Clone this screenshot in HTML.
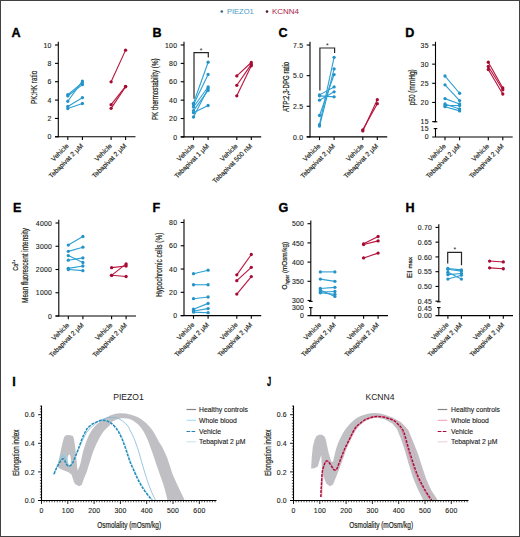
<!DOCTYPE html>
<html><head><meta charset="utf-8"><style>
html,body{margin:0;padding:0;background:#fff;}
body{width:520px;height:537px;overflow:hidden;position:relative;}
.frame{position:absolute;left:0;top:0;width:518px;height:535px;border:1px solid #424242;}
svg{position:absolute;left:0;top:0;}
</style></head><body>
<svg width="520" height="537" viewBox="0 0 520 537" font-family='"Liberation Sans", sans-serif'>
<rect x="0" y="0" width="520" height="537" fill="#fff"/>
<circle cx="221.8" cy="11.5" r="1.3" fill="#3b6682"/>
<text x="226.9" y="13.9" font-size="8.0" text-anchor="start" fill="#4b98c2" font-weight="normal" textLength="26.9" lengthAdjust="spacingAndGlyphs" >PIEZO1</text>
<circle cx="267.0" cy="11.6" r="1.3" fill="#5e1a32"/>
<text x="271.9" y="13.9" font-size="8.0" text-anchor="start" fill="#a82448" font-weight="normal" textLength="27" lengthAdjust="spacingAndGlyphs" >KCNN4</text>
<text x="11.6" y="37" font-size="12.6" text-anchor="start" fill="#000" font-weight="bold" stroke="#000" stroke-width="0.35">A</text>
<line x1="58.3" y1="41.8" x2="58.3" y2="137.3" stroke="#000" stroke-width="1.1" />
<line x1="55" y1="136.8" x2="58.3" y2="136.8" stroke="#000" stroke-width="1.1" />
<text x="51.5" y="139.4" font-size="6.9" text-anchor="end" fill="#231f20" font-weight="normal" letter-spacing="0.2" stroke="#231f20" stroke-width="0.12">0</text>
<line x1="55" y1="118.44" x2="58.3" y2="118.44" stroke="#000" stroke-width="1.1" />
<text x="51.5" y="121.04" font-size="6.9" text-anchor="end" fill="#231f20" font-weight="normal" letter-spacing="0.2" stroke="#231f20" stroke-width="0.12">2</text>
<line x1="55" y1="100.08" x2="58.3" y2="100.08" stroke="#000" stroke-width="1.1" />
<text x="51.5" y="102.68" font-size="6.9" text-anchor="end" fill="#231f20" font-weight="normal" letter-spacing="0.2" stroke="#231f20" stroke-width="0.12">4</text>
<line x1="55" y1="81.72" x2="58.3" y2="81.72" stroke="#000" stroke-width="1.1" />
<text x="51.5" y="84.32" font-size="6.9" text-anchor="end" fill="#231f20" font-weight="normal" letter-spacing="0.2" stroke="#231f20" stroke-width="0.12">6</text>
<line x1="55" y1="63.36" x2="58.3" y2="63.36" stroke="#000" stroke-width="1.1" />
<text x="51.5" y="65.96" font-size="6.9" text-anchor="end" fill="#231f20" font-weight="normal" letter-spacing="0.2" stroke="#231f20" stroke-width="0.12">8</text>
<line x1="55" y1="45" x2="58.3" y2="45" stroke="#000" stroke-width="1.1" />
<text x="51.5" y="47.6" font-size="6.9" text-anchor="end" fill="#231f20" font-weight="normal" letter-spacing="0.2" stroke="#231f20" stroke-width="0.12">10</text>
<line x1="55" y1="136.8" x2="135.5" y2="136.8" stroke="#000" stroke-width="1.1" />
<line x1="67.8" y1="136.8" x2="67.8" y2="140" stroke="#000" stroke-width="1.1" />
<line x1="82.4" y1="136.8" x2="82.4" y2="140" stroke="#000" stroke-width="1.1" />
<line x1="111.1" y1="136.8" x2="111.1" y2="140" stroke="#000" stroke-width="1.1" />
<line x1="125.6" y1="136.8" x2="125.6" y2="140" stroke="#000" stroke-width="1.1" />
<text transform="translate(69.1,146.4) rotate(-45)" font-size="6.7" text-anchor="end" fill="#231f20" stroke="#231f20" stroke-width="0.16">Vehicle</text>
<text transform="translate(83.7,146.4) rotate(-45)" font-size="6.7" text-anchor="end" fill="#231f20" stroke="#231f20" stroke-width="0.16">Tebapivat 2 μM</text>
<text transform="translate(112.4,146.4) rotate(-45)" font-size="6.7" text-anchor="end" fill="#231f20" stroke="#231f20" stroke-width="0.16">Vehicle</text>
<text transform="translate(126.9,146.4) rotate(-45)" font-size="6.7" text-anchor="end" fill="#231f20" stroke="#231f20" stroke-width="0.16">Tebapivat 2 μM</text>
<text transform="translate(37.1,87.4) rotate(-90)" x="0" y="0" font-size="8.6" text-anchor="middle" fill="#231f20" stroke="#231f20" stroke-width="0.22" textLength="33.2" lengthAdjust="spacingAndGlyphs">PK:HK ratio</text>
<line x1="67.8" y1="94.76" x2="82.4" y2="82.64" stroke="#2d9fd3" stroke-width="1.1" />
<line x1="67.8" y1="95.95" x2="82.4" y2="84.66" stroke="#2d9fd3" stroke-width="1.1" />
<line x1="67.8" y1="101.27" x2="82.4" y2="81.08" stroke="#2d9fd3" stroke-width="1.1" />
<line x1="67.8" y1="106.51" x2="82.4" y2="97.69" stroke="#2d9fd3" stroke-width="1.1" />
<line x1="67.8" y1="108.53" x2="82.4" y2="103.48" stroke="#2d9fd3" stroke-width="1.1" />
<circle cx="67.8" cy="94.76" r="1.65" fill="#2593c7"/>
<circle cx="82.4" cy="82.64" r="1.65" fill="#2593c7"/>
<circle cx="67.8" cy="95.95" r="1.65" fill="#2593c7"/>
<circle cx="82.4" cy="84.66" r="1.65" fill="#2593c7"/>
<circle cx="67.8" cy="101.27" r="1.65" fill="#2593c7"/>
<circle cx="82.4" cy="81.08" r="1.65" fill="#2593c7"/>
<circle cx="67.8" cy="106.51" r="1.65" fill="#2593c7"/>
<circle cx="82.4" cy="97.69" r="1.65" fill="#2593c7"/>
<circle cx="67.8" cy="108.53" r="1.65" fill="#2593c7"/>
<circle cx="82.4" cy="103.48" r="1.65" fill="#2593c7"/>
<line x1="111.1" y1="81.81" x2="125.6" y2="50.14" stroke="#b8123c" stroke-width="1.1" />
<line x1="111.1" y1="104.67" x2="125.6" y2="86.31" stroke="#b8123c" stroke-width="1.1" />
<line x1="111.1" y1="108.34" x2="125.6" y2="86.77" stroke="#b8123c" stroke-width="1.1" />
<circle cx="111.1" cy="81.81" r="1.65" fill="#a50c33"/>
<circle cx="125.6" cy="50.14" r="1.65" fill="#a50c33"/>
<circle cx="111.1" cy="104.67" r="1.65" fill="#a50c33"/>
<circle cx="125.6" cy="86.31" r="1.65" fill="#a50c33"/>
<circle cx="111.1" cy="108.34" r="1.65" fill="#a50c33"/>
<circle cx="125.6" cy="86.77" r="1.65" fill="#a50c33"/>
<text x="152.5" y="37" font-size="12.6" text-anchor="start" fill="#000" font-weight="bold" stroke="#000" stroke-width="0.35">B</text>
<line x1="184" y1="41.8" x2="184" y2="137.4" stroke="#000" stroke-width="1.1" />
<line x1="180.7" y1="136.9" x2="184" y2="136.9" stroke="#000" stroke-width="1.1" />
<text x="177.2" y="139.5" font-size="6.9" text-anchor="end" fill="#231f20" font-weight="normal" letter-spacing="0.2" stroke="#231f20" stroke-width="0.12">0</text>
<line x1="180.7" y1="118.52" x2="184" y2="118.52" stroke="#000" stroke-width="1.1" />
<text x="177.2" y="121.12" font-size="6.9" text-anchor="end" fill="#231f20" font-weight="normal" letter-spacing="0.2" stroke="#231f20" stroke-width="0.12">20</text>
<line x1="180.7" y1="100.14" x2="184" y2="100.14" stroke="#000" stroke-width="1.1" />
<text x="177.2" y="102.74" font-size="6.9" text-anchor="end" fill="#231f20" font-weight="normal" letter-spacing="0.2" stroke="#231f20" stroke-width="0.12">40</text>
<line x1="180.7" y1="81.76" x2="184" y2="81.76" stroke="#000" stroke-width="1.1" />
<text x="177.2" y="84.36" font-size="6.9" text-anchor="end" fill="#231f20" font-weight="normal" letter-spacing="0.2" stroke="#231f20" stroke-width="0.12">60</text>
<line x1="180.7" y1="63.38" x2="184" y2="63.38" stroke="#000" stroke-width="1.1" />
<text x="177.2" y="65.98" font-size="6.9" text-anchor="end" fill="#231f20" font-weight="normal" letter-spacing="0.2" stroke="#231f20" stroke-width="0.12">80</text>
<line x1="180.7" y1="45" x2="184" y2="45" stroke="#000" stroke-width="1.1" />
<text x="177.2" y="47.6" font-size="6.9" text-anchor="end" fill="#231f20" font-weight="normal" letter-spacing="0.2" stroke="#231f20" stroke-width="0.12">100</text>
<line x1="180.7" y1="136.9" x2="261.2" y2="136.9" stroke="#000" stroke-width="1.1" />
<line x1="193.5" y1="136.9" x2="193.5" y2="140.1" stroke="#000" stroke-width="1.1" />
<line x1="208.1" y1="136.9" x2="208.1" y2="140.1" stroke="#000" stroke-width="1.1" />
<line x1="236.8" y1="136.9" x2="236.8" y2="140.1" stroke="#000" stroke-width="1.1" />
<line x1="251.3" y1="136.9" x2="251.3" y2="140.1" stroke="#000" stroke-width="1.1" />
<text transform="translate(194.8,146.5) rotate(-45)" font-size="6.7" text-anchor="end" fill="#231f20" stroke="#231f20" stroke-width="0.16">Vehicle</text>
<text transform="translate(209.4,146.5) rotate(-45)" font-size="6.7" text-anchor="end" fill="#231f20" stroke="#231f20" stroke-width="0.16">Tebapivat 1 μM</text>
<text transform="translate(238.1,146.5) rotate(-45)" font-size="6.7" text-anchor="end" fill="#231f20" stroke="#231f20" stroke-width="0.16">Vehicle</text>
<text transform="translate(252.6,146.5) rotate(-45)" font-size="6.7" text-anchor="end" fill="#231f20" stroke="#231f20" stroke-width="0.16">Tebapivat 500 nM</text>
<text transform="translate(158,89.3) rotate(-90)" x="0" y="0" font-size="8.6" text-anchor="middle" fill="#231f20" stroke="#231f20" stroke-width="0.22" textLength="61.6" lengthAdjust="spacingAndGlyphs">PK thermostability (%)</text>
<path d="M194,98.8 V52.7 H208.3 V57.6" fill="none" stroke="#262626" stroke-width="1.2"/>
<text x="201.2" y="52.6" font-size="6.8" text-anchor="middle" fill="#262626" font-weight="normal" >*</text>
<line x1="193.5" y1="103.3" x2="208.1" y2="62.2" stroke="#2d9fd3" stroke-width="1.1" />
<line x1="193.5" y1="104.8" x2="208.1" y2="74.5" stroke="#2d9fd3" stroke-width="1.1" />
<line x1="193.5" y1="107" x2="208.1" y2="87" stroke="#2d9fd3" stroke-width="1.1" />
<line x1="193.5" y1="110.6" x2="208.1" y2="90.4" stroke="#2d9fd3" stroke-width="1.1" />
<line x1="193.5" y1="112.7" x2="208.1" y2="105.5" stroke="#2d9fd3" stroke-width="1.1" />
<line x1="193.5" y1="117" x2="208.1" y2="88.5" stroke="#2d9fd3" stroke-width="1.1" />
<circle cx="193.5" cy="103.3" r="1.65" fill="#2593c7"/>
<circle cx="208.1" cy="62.2" r="1.65" fill="#2593c7"/>
<circle cx="193.5" cy="104.8" r="1.65" fill="#2593c7"/>
<circle cx="208.1" cy="74.5" r="1.65" fill="#2593c7"/>
<circle cx="193.5" cy="107" r="1.65" fill="#2593c7"/>
<circle cx="208.1" cy="87" r="1.65" fill="#2593c7"/>
<circle cx="193.5" cy="110.6" r="1.65" fill="#2593c7"/>
<circle cx="208.1" cy="90.4" r="1.65" fill="#2593c7"/>
<circle cx="193.5" cy="112.7" r="1.65" fill="#2593c7"/>
<circle cx="208.1" cy="105.5" r="1.65" fill="#2593c7"/>
<circle cx="193.5" cy="117" r="1.65" fill="#2593c7"/>
<circle cx="208.1" cy="88.5" r="1.65" fill="#2593c7"/>
<line x1="236.8" y1="75.9" x2="251.3" y2="62.5" stroke="#b8123c" stroke-width="1.1" />
<line x1="236.8" y1="85.3" x2="251.3" y2="64.4" stroke="#b8123c" stroke-width="1.1" />
<line x1="236.8" y1="95.8" x2="251.3" y2="65.8" stroke="#b8123c" stroke-width="1.1" />
<circle cx="236.8" cy="75.9" r="1.65" fill="#a50c33"/>
<circle cx="251.3" cy="62.5" r="1.65" fill="#a50c33"/>
<circle cx="236.8" cy="85.3" r="1.65" fill="#a50c33"/>
<circle cx="251.3" cy="64.4" r="1.65" fill="#a50c33"/>
<circle cx="236.8" cy="95.8" r="1.65" fill="#a50c33"/>
<circle cx="251.3" cy="65.8" r="1.65" fill="#a50c33"/>
<text x="278.4" y="37" font-size="12.6" text-anchor="start" fill="#000" font-weight="bold" stroke="#000" stroke-width="0.35">C</text>
<line x1="310" y1="41.83" x2="310" y2="137.4" stroke="#000" stroke-width="1.1" />
<line x1="306.7" y1="136.9" x2="310" y2="136.9" stroke="#000" stroke-width="1.1" />
<text x="303.2" y="139.5" font-size="6.9" text-anchor="end" fill="#231f20" font-weight="normal" letter-spacing="0.2" stroke="#231f20" stroke-width="0.12">0.0</text>
<line x1="306.7" y1="106.28" x2="310" y2="106.28" stroke="#000" stroke-width="1.1" />
<text x="303.2" y="108.88" font-size="6.9" text-anchor="end" fill="#231f20" font-weight="normal" letter-spacing="0.2" stroke="#231f20" stroke-width="0.12">2.5</text>
<line x1="306.7" y1="75.65" x2="310" y2="75.65" stroke="#000" stroke-width="1.1" />
<text x="303.2" y="78.25" font-size="6.9" text-anchor="end" fill="#231f20" font-weight="normal" letter-spacing="0.2" stroke="#231f20" stroke-width="0.12">5.0</text>
<line x1="306.7" y1="45.03" x2="310" y2="45.03" stroke="#000" stroke-width="1.1" />
<text x="303.2" y="47.63" font-size="6.9" text-anchor="end" fill="#231f20" font-weight="normal" letter-spacing="0.2" stroke="#231f20" stroke-width="0.12">7.5</text>
<line x1="306.7" y1="136.9" x2="387.2" y2="136.9" stroke="#000" stroke-width="1.1" />
<line x1="319.5" y1="136.9" x2="319.5" y2="140.1" stroke="#000" stroke-width="1.1" />
<line x1="334.1" y1="136.9" x2="334.1" y2="140.1" stroke="#000" stroke-width="1.1" />
<line x1="362.8" y1="136.9" x2="362.8" y2="140.1" stroke="#000" stroke-width="1.1" />
<line x1="377.3" y1="136.9" x2="377.3" y2="140.1" stroke="#000" stroke-width="1.1" />
<text transform="translate(320.8,146.5) rotate(-45)" font-size="6.7" text-anchor="end" fill="#231f20" stroke="#231f20" stroke-width="0.16">Vehicle</text>
<text transform="translate(335.4,146.5) rotate(-45)" font-size="6.7" text-anchor="end" fill="#231f20" stroke="#231f20" stroke-width="0.16">Tebapivat 2 μM</text>
<text transform="translate(364.1,146.5) rotate(-45)" font-size="6.7" text-anchor="end" fill="#231f20" stroke="#231f20" stroke-width="0.16">Vehicle</text>
<text transform="translate(378.6,146.5) rotate(-45)" font-size="6.7" text-anchor="end" fill="#231f20" stroke="#231f20" stroke-width="0.16">Tebapivat 2 μM</text>
<text transform="translate(289,86.9) rotate(-90)" x="0" y="0" font-size="8.6" text-anchor="middle" fill="#231f20" stroke="#231f20" stroke-width="0.22" textLength="50.2" lengthAdjust="spacingAndGlyphs">ATP:2,3-DPG ratio</text>
<path d="M319.9,90.4 V48 H334.6 V53" fill="none" stroke="#262626" stroke-width="1.2"/>
<text x="327.4" y="47.6" font-size="6.8" text-anchor="middle" fill="#262626" font-weight="normal" >*</text>
<line x1="319.5" y1="94.88" x2="334.1" y2="86.92" stroke="#2d9fd3" stroke-width="1.1" />
<line x1="319.5" y1="100.15" x2="334.1" y2="91.82" stroke="#2d9fd3" stroke-width="1.1" />
<line x1="319.5" y1="95.86" x2="334.1" y2="96.84" stroke="#2d9fd3" stroke-width="1.1" />
<line x1="319.5" y1="115.46" x2="334.1" y2="74.55" stroke="#2d9fd3" stroke-width="1.1" />
<line x1="319.5" y1="124.65" x2="334.1" y2="57.28" stroke="#2d9fd3" stroke-width="1.1" />
<line x1="319.5" y1="126" x2="334.1" y2="68.91" stroke="#2d9fd3" stroke-width="1.1" />
<circle cx="319.5" cy="94.88" r="1.65" fill="#2593c7"/>
<circle cx="334.1" cy="86.92" r="1.65" fill="#2593c7"/>
<circle cx="319.5" cy="100.15" r="1.65" fill="#2593c7"/>
<circle cx="334.1" cy="91.82" r="1.65" fill="#2593c7"/>
<circle cx="319.5" cy="95.86" r="1.65" fill="#2593c7"/>
<circle cx="334.1" cy="96.84" r="1.65" fill="#2593c7"/>
<circle cx="319.5" cy="115.46" r="1.65" fill="#2593c7"/>
<circle cx="334.1" cy="74.55" r="1.65" fill="#2593c7"/>
<circle cx="319.5" cy="124.65" r="1.65" fill="#2593c7"/>
<circle cx="334.1" cy="57.28" r="1.65" fill="#2593c7"/>
<circle cx="319.5" cy="126" r="1.65" fill="#2593c7"/>
<circle cx="334.1" cy="68.91" r="1.65" fill="#2593c7"/>
<line x1="362.8" y1="130.9" x2="377.3" y2="99.66" stroke="#b8123c" stroke-width="1.1" />
<line x1="362.8" y1="129.8" x2="377.3" y2="103.7" stroke="#b8123c" stroke-width="1.1" />
<circle cx="362.8" cy="130.9" r="1.65" fill="#a50c33"/>
<circle cx="377.3" cy="99.66" r="1.65" fill="#a50c33"/>
<circle cx="362.8" cy="129.8" r="1.65" fill="#a50c33"/>
<circle cx="377.3" cy="103.7" r="1.65" fill="#a50c33"/>
<text x="405.3" y="37" font-size="12.6" text-anchor="start" fill="#000" font-weight="bold" stroke="#000" stroke-width="0.35">D</text>
<line x1="435.5" y1="41.8" x2="435.5" y2="121.8" stroke="#000" stroke-width="1.1" />
<line x1="433.7" y1="121.8" x2="437.3" y2="121.8" stroke="#000" stroke-width="1.1" />
<line x1="435.5" y1="128.6" x2="435.5" y2="137" stroke="#000" stroke-width="1.1" />
<line x1="433.7" y1="128.6" x2="437.3" y2="128.6" stroke="#000" stroke-width="1.1" />
<text x="428.7" y="131" font-size="6.9" text-anchor="end" fill="#231f20" font-weight="normal" letter-spacing="0.2" stroke="#231f20" stroke-width="0.12">15</text>
<text x="428.7" y="138.9" font-size="6.9" text-anchor="end" fill="#231f20" font-weight="normal" letter-spacing="0.2" stroke="#231f20" stroke-width="0.12">0</text>
<line x1="432.2" y1="121.6" x2="435.5" y2="121.6" stroke="#000" stroke-width="1.1" />
<text x="428.7" y="124.2" font-size="6.9" text-anchor="end" fill="#231f20" font-weight="normal" letter-spacing="0.2" stroke="#231f20" stroke-width="0.12">15</text>
<line x1="432.2" y1="102.45" x2="435.5" y2="102.45" stroke="#000" stroke-width="1.1" />
<text x="428.7" y="105.05" font-size="6.9" text-anchor="end" fill="#231f20" font-weight="normal" letter-spacing="0.2" stroke="#231f20" stroke-width="0.12">20</text>
<line x1="432.2" y1="83.3" x2="435.5" y2="83.3" stroke="#000" stroke-width="1.1" />
<text x="428.7" y="85.9" font-size="6.9" text-anchor="end" fill="#231f20" font-weight="normal" letter-spacing="0.2" stroke="#231f20" stroke-width="0.12">25</text>
<line x1="432.2" y1="64.15" x2="435.5" y2="64.15" stroke="#000" stroke-width="1.1" />
<text x="428.7" y="66.75" font-size="6.9" text-anchor="end" fill="#231f20" font-weight="normal" letter-spacing="0.2" stroke="#231f20" stroke-width="0.12">30</text>
<line x1="432.2" y1="45" x2="435.5" y2="45" stroke="#000" stroke-width="1.1" />
<text x="428.7" y="47.6" font-size="6.9" text-anchor="end" fill="#231f20" font-weight="normal" letter-spacing="0.2" stroke="#231f20" stroke-width="0.12">35</text>
<line x1="432.2" y1="137" x2="512.7" y2="137" stroke="#000" stroke-width="1.1" />
<line x1="445" y1="137" x2="445" y2="140.2" stroke="#000" stroke-width="1.1" />
<line x1="459.6" y1="137" x2="459.6" y2="140.2" stroke="#000" stroke-width="1.1" />
<line x1="488.3" y1="137" x2="488.3" y2="140.2" stroke="#000" stroke-width="1.1" />
<line x1="502.8" y1="137" x2="502.8" y2="140.2" stroke="#000" stroke-width="1.1" />
<text transform="translate(446.3,146.6) rotate(-45)" font-size="6.7" text-anchor="end" fill="#231f20" stroke="#231f20" stroke-width="0.16">Vehicle</text>
<text transform="translate(460.9,146.6) rotate(-45)" font-size="6.7" text-anchor="end" fill="#231f20" stroke="#231f20" stroke-width="0.16">Tebapivat 2 μM</text>
<text transform="translate(489.6,146.6) rotate(-45)" font-size="6.7" text-anchor="end" fill="#231f20" stroke="#231f20" stroke-width="0.16">Vehicle</text>
<text transform="translate(504.1,146.6) rotate(-45)" font-size="6.7" text-anchor="end" fill="#231f20" stroke="#231f20" stroke-width="0.16">Tebapivat 2 μM</text>
<text transform="translate(414.6,87.3) rotate(-90)" x="0" y="0" font-size="8.6" text-anchor="middle" fill="#231f20" stroke="#231f20" stroke-width="0.22" textLength="36" lengthAdjust="spacingAndGlyphs">p50 (mmHg)</text>
<line x1="445" y1="76.02" x2="459.6" y2="93.26" stroke="#2d9fd3" stroke-width="1.1" />
<line x1="445" y1="84.83" x2="459.6" y2="100.53" stroke="#2d9fd3" stroke-width="1.1" />
<line x1="445" y1="98.62" x2="459.6" y2="103.98" stroke="#2d9fd3" stroke-width="1.1" />
<line x1="445" y1="103.98" x2="459.6" y2="108.96" stroke="#2d9fd3" stroke-width="1.1" />
<line x1="445" y1="105.51" x2="459.6" y2="105.51" stroke="#2d9fd3" stroke-width="1.1" />
<line x1="445" y1="106.66" x2="459.6" y2="110.88" stroke="#2d9fd3" stroke-width="1.1" />
<circle cx="445" cy="76.02" r="1.65" fill="#2593c7"/>
<circle cx="459.6" cy="93.26" r="1.65" fill="#2593c7"/>
<circle cx="445" cy="84.83" r="1.65" fill="#2593c7"/>
<circle cx="459.6" cy="100.53" r="1.65" fill="#2593c7"/>
<circle cx="445" cy="98.62" r="1.65" fill="#2593c7"/>
<circle cx="459.6" cy="103.98" r="1.65" fill="#2593c7"/>
<circle cx="445" cy="103.98" r="1.65" fill="#2593c7"/>
<circle cx="459.6" cy="108.96" r="1.65" fill="#2593c7"/>
<circle cx="445" cy="105.51" r="1.65" fill="#2593c7"/>
<circle cx="459.6" cy="105.51" r="1.65" fill="#2593c7"/>
<circle cx="445" cy="106.66" r="1.65" fill="#2593c7"/>
<circle cx="459.6" cy="110.88" r="1.65" fill="#2593c7"/>
<line x1="488.3" y1="62.23" x2="502.8" y2="87.9" stroke="#b8123c" stroke-width="1.1" />
<line x1="488.3" y1="66.45" x2="502.8" y2="89.81" stroke="#b8123c" stroke-width="1.1" />
<line x1="488.3" y1="69.51" x2="502.8" y2="94.02" stroke="#b8123c" stroke-width="1.1" />
<circle cx="488.3" cy="62.23" r="1.65" fill="#a50c33"/>
<circle cx="502.8" cy="87.9" r="1.65" fill="#a50c33"/>
<circle cx="488.3" cy="66.45" r="1.65" fill="#a50c33"/>
<circle cx="502.8" cy="89.81" r="1.65" fill="#a50c33"/>
<circle cx="488.3" cy="69.51" r="1.65" fill="#a50c33"/>
<circle cx="502.8" cy="94.02" r="1.65" fill="#a50c33"/>
<text x="12.9" y="212.3" font-size="12.6" text-anchor="start" fill="#000" font-weight="bold" stroke="#000" stroke-width="0.35">E</text>
<line x1="58.8" y1="219.8" x2="58.8" y2="316.5" stroke="#000" stroke-width="1.1" />
<line x1="55.5" y1="316" x2="58.8" y2="316" stroke="#000" stroke-width="1.1" />
<text x="52" y="318.6" font-size="6.9" text-anchor="end" fill="#231f20" font-weight="normal" letter-spacing="0.2" stroke="#231f20" stroke-width="0.12">0</text>
<line x1="55.5" y1="292.75" x2="58.8" y2="292.75" stroke="#000" stroke-width="1.1" />
<text x="52" y="295.35" font-size="6.9" text-anchor="end" fill="#231f20" font-weight="normal" letter-spacing="0.2" stroke="#231f20" stroke-width="0.12">1000</text>
<line x1="55.5" y1="269.5" x2="58.8" y2="269.5" stroke="#000" stroke-width="1.1" />
<text x="52" y="272.1" font-size="6.9" text-anchor="end" fill="#231f20" font-weight="normal" letter-spacing="0.2" stroke="#231f20" stroke-width="0.12">2000</text>
<line x1="55.5" y1="246.25" x2="58.8" y2="246.25" stroke="#000" stroke-width="1.1" />
<text x="52" y="248.85" font-size="6.9" text-anchor="end" fill="#231f20" font-weight="normal" letter-spacing="0.2" stroke="#231f20" stroke-width="0.12">3000</text>
<line x1="55.5" y1="223" x2="58.8" y2="223" stroke="#000" stroke-width="1.1" />
<text x="52" y="225.6" font-size="6.9" text-anchor="end" fill="#231f20" font-weight="normal" letter-spacing="0.2" stroke="#231f20" stroke-width="0.12">4000</text>
<line x1="55.5" y1="316" x2="136" y2="316" stroke="#000" stroke-width="1.1" />
<line x1="68.3" y1="316" x2="68.3" y2="319.2" stroke="#000" stroke-width="1.1" />
<line x1="82.9" y1="316" x2="82.9" y2="319.2" stroke="#000" stroke-width="1.1" />
<line x1="111.6" y1="316" x2="111.6" y2="319.2" stroke="#000" stroke-width="1.1" />
<line x1="126.1" y1="316" x2="126.1" y2="319.2" stroke="#000" stroke-width="1.1" />
<text transform="translate(69.6,325.6) rotate(-45)" font-size="6.7" text-anchor="end" fill="#231f20" stroke="#231f20" stroke-width="0.16">Vehicle</text>
<text transform="translate(84.2,325.6) rotate(-45)" font-size="6.7" text-anchor="end" fill="#231f20" stroke="#231f20" stroke-width="0.16">Tebapivat 2 μM</text>
<text transform="translate(112.9,325.6) rotate(-45)" font-size="6.7" text-anchor="end" fill="#231f20" stroke="#231f20" stroke-width="0.16">Vehicle</text>
<text transform="translate(127.4,325.6) rotate(-45)" font-size="6.7" text-anchor="end" fill="#231f20" stroke="#231f20" stroke-width="0.16">Tebapivat 2 μM</text>
<text transform="translate(28.2,265.5) rotate(-90)" x="0" y="0" font-size="8.4" text-anchor="middle" fill="#231f20" stroke="#231f20" stroke-width="0.22" textLength="74.8" lengthAdjust="spacingAndGlyphs">Mean fluorescent intensity</text>
<text transform="translate(17.6,265.3) rotate(-90)" font-size="7.2" text-anchor="middle" fill="#231f20" stroke="#231f20" stroke-width="0.2" textLength="10.8" lengthAdjust="spacingAndGlyphs">Ca<tspan font-size="4.4" dy="-2.8">2+</tspan></text>
<line x1="68.3" y1="245.09" x2="82.9" y2="236.49" stroke="#2d9fd3" stroke-width="1.1" />
<line x1="68.3" y1="251.37" x2="82.9" y2="247.18" stroke="#2d9fd3" stroke-width="1.1" />
<line x1="68.3" y1="255.55" x2="82.9" y2="262.52" stroke="#2d9fd3" stroke-width="1.1" />
<line x1="68.3" y1="260.2" x2="82.9" y2="257.88" stroke="#2d9fd3" stroke-width="1.1" />
<line x1="68.3" y1="268.34" x2="82.9" y2="266.01" stroke="#2d9fd3" stroke-width="1.1" />
<line x1="68.3" y1="269.5" x2="82.9" y2="270.66" stroke="#2d9fd3" stroke-width="1.1" />
<circle cx="68.3" cy="245.09" r="1.65" fill="#2593c7"/>
<circle cx="82.9" cy="236.49" r="1.65" fill="#2593c7"/>
<circle cx="68.3" cy="251.37" r="1.65" fill="#2593c7"/>
<circle cx="82.9" cy="247.18" r="1.65" fill="#2593c7"/>
<circle cx="68.3" cy="255.55" r="1.65" fill="#2593c7"/>
<circle cx="82.9" cy="262.52" r="1.65" fill="#2593c7"/>
<circle cx="68.3" cy="260.2" r="1.65" fill="#2593c7"/>
<circle cx="82.9" cy="257.88" r="1.65" fill="#2593c7"/>
<circle cx="68.3" cy="268.34" r="1.65" fill="#2593c7"/>
<circle cx="82.9" cy="266.01" r="1.65" fill="#2593c7"/>
<circle cx="68.3" cy="269.5" r="1.65" fill="#2593c7"/>
<circle cx="82.9" cy="270.66" r="1.65" fill="#2593c7"/>
<line x1="111.6" y1="267.64" x2="126.1" y2="266.01" stroke="#b8123c" stroke-width="1.1" />
<line x1="111.6" y1="275.31" x2="126.1" y2="263.92" stroke="#b8123c" stroke-width="1.1" />
<line x1="111.6" y1="275.31" x2="126.1" y2="276.48" stroke="#b8123c" stroke-width="1.1" />
<circle cx="111.6" cy="267.64" r="1.65" fill="#a50c33"/>
<circle cx="126.1" cy="266.01" r="1.65" fill="#a50c33"/>
<circle cx="111.6" cy="275.31" r="1.65" fill="#a50c33"/>
<circle cx="126.1" cy="263.92" r="1.65" fill="#a50c33"/>
<circle cx="111.6" cy="275.31" r="1.65" fill="#a50c33"/>
<circle cx="126.1" cy="276.48" r="1.65" fill="#a50c33"/>
<text x="152.5" y="212.3" font-size="12.6" text-anchor="start" fill="#000" font-weight="bold" stroke="#000" stroke-width="0.35">F</text>
<line x1="184" y1="219.28" x2="184" y2="316.1" stroke="#000" stroke-width="1.1" />
<line x1="180.7" y1="315.6" x2="184" y2="315.6" stroke="#000" stroke-width="1.1" />
<text x="177.2" y="318.2" font-size="6.9" text-anchor="end" fill="#231f20" font-weight="normal" letter-spacing="0.2" stroke="#231f20" stroke-width="0.12">0</text>
<line x1="180.7" y1="292.32" x2="184" y2="292.32" stroke="#000" stroke-width="1.1" />
<text x="177.2" y="294.92" font-size="6.9" text-anchor="end" fill="#231f20" font-weight="normal" letter-spacing="0.2" stroke="#231f20" stroke-width="0.12">20</text>
<line x1="180.7" y1="269.04" x2="184" y2="269.04" stroke="#000" stroke-width="1.1" />
<text x="177.2" y="271.64" font-size="6.9" text-anchor="end" fill="#231f20" font-weight="normal" letter-spacing="0.2" stroke="#231f20" stroke-width="0.12">40</text>
<line x1="180.7" y1="245.76" x2="184" y2="245.76" stroke="#000" stroke-width="1.1" />
<text x="177.2" y="248.36" font-size="6.9" text-anchor="end" fill="#231f20" font-weight="normal" letter-spacing="0.2" stroke="#231f20" stroke-width="0.12">60</text>
<line x1="180.7" y1="222.48" x2="184" y2="222.48" stroke="#000" stroke-width="1.1" />
<text x="177.2" y="225.08" font-size="6.9" text-anchor="end" fill="#231f20" font-weight="normal" letter-spacing="0.2" stroke="#231f20" stroke-width="0.12">80</text>
<line x1="180.7" y1="315.6" x2="261.2" y2="315.6" stroke="#000" stroke-width="1.1" />
<line x1="193.5" y1="315.6" x2="193.5" y2="318.8" stroke="#000" stroke-width="1.1" />
<line x1="208.1" y1="315.6" x2="208.1" y2="318.8" stroke="#000" stroke-width="1.1" />
<line x1="236.8" y1="315.6" x2="236.8" y2="318.8" stroke="#000" stroke-width="1.1" />
<line x1="251.3" y1="315.6" x2="251.3" y2="318.8" stroke="#000" stroke-width="1.1" />
<text transform="translate(194.8,325.2) rotate(-45)" font-size="6.7" text-anchor="end" fill="#231f20" stroke="#231f20" stroke-width="0.16">Vehicle</text>
<text transform="translate(209.4,325.2) rotate(-45)" font-size="6.7" text-anchor="end" fill="#231f20" stroke="#231f20" stroke-width="0.16">Tebapivat 2 μM</text>
<text transform="translate(238.1,325.2) rotate(-45)" font-size="6.7" text-anchor="end" fill="#231f20" stroke="#231f20" stroke-width="0.16">Vehicle</text>
<text transform="translate(252.6,325.2) rotate(-45)" font-size="6.7" text-anchor="end" fill="#231f20" stroke="#231f20" stroke-width="0.16">Tebapivat 2 μM</text>
<text transform="translate(162.4,264.8) rotate(-90)" x="0" y="0" font-size="8.6" text-anchor="middle" fill="#231f20" stroke="#231f20" stroke-width="0.22" textLength="64.2" lengthAdjust="spacingAndGlyphs">Hypochromic cells (%)</text>
<line x1="193.5" y1="273.7" x2="208.1" y2="270.2" stroke="#2d9fd3" stroke-width="1.1" />
<line x1="193.5" y1="284.75" x2="208.1" y2="284.75" stroke="#2d9fd3" stroke-width="1.1" />
<line x1="193.5" y1="298.72" x2="208.1" y2="296.98" stroke="#2d9fd3" stroke-width="1.1" />
<line x1="193.5" y1="309.2" x2="208.1" y2="303.38" stroke="#2d9fd3" stroke-width="1.1" />
<line x1="193.5" y1="310.94" x2="208.1" y2="308.62" stroke="#2d9fd3" stroke-width="1.1" />
<line x1="193.5" y1="312.11" x2="208.1" y2="312.69" stroke="#2d9fd3" stroke-width="1.1" />
<circle cx="193.5" cy="273.7" r="1.65" fill="#2593c7"/>
<circle cx="208.1" cy="270.2" r="1.65" fill="#2593c7"/>
<circle cx="193.5" cy="284.75" r="1.65" fill="#2593c7"/>
<circle cx="208.1" cy="284.75" r="1.65" fill="#2593c7"/>
<circle cx="193.5" cy="298.72" r="1.65" fill="#2593c7"/>
<circle cx="208.1" cy="296.98" r="1.65" fill="#2593c7"/>
<circle cx="193.5" cy="309.2" r="1.65" fill="#2593c7"/>
<circle cx="208.1" cy="303.38" r="1.65" fill="#2593c7"/>
<circle cx="193.5" cy="310.94" r="1.65" fill="#2593c7"/>
<circle cx="208.1" cy="308.62" r="1.65" fill="#2593c7"/>
<circle cx="193.5" cy="312.11" r="1.65" fill="#2593c7"/>
<circle cx="208.1" cy="312.69" r="1.65" fill="#2593c7"/>
<line x1="236.8" y1="274.86" x2="251.3" y2="254.49" stroke="#b8123c" stroke-width="1.1" />
<line x1="236.8" y1="280.68" x2="251.3" y2="267.29" stroke="#b8123c" stroke-width="1.1" />
<line x1="236.8" y1="294.07" x2="251.3" y2="276.61" stroke="#b8123c" stroke-width="1.1" />
<circle cx="236.8" cy="274.86" r="1.65" fill="#a50c33"/>
<circle cx="251.3" cy="254.49" r="1.65" fill="#a50c33"/>
<circle cx="236.8" cy="280.68" r="1.65" fill="#a50c33"/>
<circle cx="251.3" cy="267.29" r="1.65" fill="#a50c33"/>
<circle cx="236.8" cy="294.07" r="1.65" fill="#a50c33"/>
<circle cx="251.3" cy="276.61" r="1.65" fill="#a50c33"/>
<text x="278.6" y="212.3" font-size="12.6" text-anchor="start" fill="#000" font-weight="bold" stroke="#000" stroke-width="0.35">G</text>
<line x1="310.8" y1="220.5" x2="310.8" y2="301.4" stroke="#000" stroke-width="1.1" />
<line x1="309" y1="301.4" x2="312.6" y2="301.4" stroke="#000" stroke-width="1.1" />
<line x1="310.8" y1="307.6" x2="310.8" y2="315.6" stroke="#000" stroke-width="1.1" />
<line x1="309" y1="307.6" x2="312.6" y2="307.6" stroke="#000" stroke-width="1.1" />
<text x="304" y="310.4" font-size="6.9" text-anchor="end" fill="#231f20" font-weight="normal" letter-spacing="0.2" stroke="#231f20" stroke-width="0.12">300</text>
<text x="304" y="317.6" font-size="6.9" text-anchor="end" fill="#231f20" font-weight="normal" letter-spacing="0.2" stroke="#231f20" stroke-width="0.12">0</text>
<line x1="307.5" y1="300.5" x2="310.8" y2="300.5" stroke="#000" stroke-width="1.1" />
<text x="304" y="303.1" font-size="6.9" text-anchor="end" fill="#231f20" font-weight="normal" letter-spacing="0.2" stroke="#231f20" stroke-width="0.12">300</text>
<line x1="307.5" y1="281.3" x2="310.8" y2="281.3" stroke="#000" stroke-width="1.1" />
<text x="304" y="283.9" font-size="6.9" text-anchor="end" fill="#231f20" font-weight="normal" letter-spacing="0.2" stroke="#231f20" stroke-width="0.12">350</text>
<line x1="307.5" y1="262.1" x2="310.8" y2="262.1" stroke="#000" stroke-width="1.1" />
<text x="304" y="264.7" font-size="6.9" text-anchor="end" fill="#231f20" font-weight="normal" letter-spacing="0.2" stroke="#231f20" stroke-width="0.12">400</text>
<line x1="307.5" y1="242.9" x2="310.8" y2="242.9" stroke="#000" stroke-width="1.1" />
<text x="304" y="245.5" font-size="6.9" text-anchor="end" fill="#231f20" font-weight="normal" letter-spacing="0.2" stroke="#231f20" stroke-width="0.12">450</text>
<line x1="307.5" y1="223.7" x2="310.8" y2="223.7" stroke="#000" stroke-width="1.1" />
<text x="304" y="226.3" font-size="6.9" text-anchor="end" fill="#231f20" font-weight="normal" letter-spacing="0.2" stroke="#231f20" stroke-width="0.12">500</text>
<line x1="307.5" y1="315.6" x2="388" y2="315.6" stroke="#000" stroke-width="1.1" />
<line x1="320.3" y1="315.6" x2="320.3" y2="318.8" stroke="#000" stroke-width="1.1" />
<line x1="334.9" y1="315.6" x2="334.9" y2="318.8" stroke="#000" stroke-width="1.1" />
<line x1="363.6" y1="315.6" x2="363.6" y2="318.8" stroke="#000" stroke-width="1.1" />
<line x1="378.1" y1="315.6" x2="378.1" y2="318.8" stroke="#000" stroke-width="1.1" />
<text transform="translate(321.6,325.2) rotate(-45)" font-size="6.7" text-anchor="end" fill="#231f20" stroke="#231f20" stroke-width="0.16">Vehicle</text>
<text transform="translate(336.2,325.2) rotate(-45)" font-size="6.7" text-anchor="end" fill="#231f20" stroke="#231f20" stroke-width="0.16">Tebapivat 2 μM</text>
<text transform="translate(364.9,325.2) rotate(-45)" font-size="6.7" text-anchor="end" fill="#231f20" stroke="#231f20" stroke-width="0.16">Vehicle</text>
<text transform="translate(379.4,325.2) rotate(-45)" font-size="6.7" text-anchor="end" fill="#231f20" stroke="#231f20" stroke-width="0.16">Tebapivat 2 μM</text>
<text transform="translate(287.0,265.7) rotate(-90)" font-size="8" text-anchor="middle" fill="#231f20" stroke="#231f20" stroke-width="0.22" textLength="47.5" lengthAdjust="spacingAndGlyphs">O<tspan font-size="5" dy="1.8">hyper</tspan><tspan dy="-1.8"> (mOsm/kg)</tspan></text>
<line x1="320.3" y1="271.89" x2="334.9" y2="271.89" stroke="#2d9fd3" stroke-width="1.1" />
<line x1="320.3" y1="279.11" x2="334.9" y2="281.34" stroke="#2d9fd3" stroke-width="1.1" />
<line x1="320.3" y1="288.48" x2="334.9" y2="287.37" stroke="#2d9fd3" stroke-width="1.1" />
<line x1="320.3" y1="289.9" x2="334.9" y2="296.47" stroke="#2d9fd3" stroke-width="1.1" />
<line x1="320.3" y1="292.09" x2="334.9" y2="291.48" stroke="#2d9fd3" stroke-width="1.1" />
<line x1="320.3" y1="292.82" x2="334.9" y2="294.36" stroke="#2d9fd3" stroke-width="1.1" />
<circle cx="320.3" cy="271.89" r="1.65" fill="#2593c7"/>
<circle cx="334.9" cy="271.89" r="1.65" fill="#2593c7"/>
<circle cx="320.3" cy="279.11" r="1.65" fill="#2593c7"/>
<circle cx="334.9" cy="281.34" r="1.65" fill="#2593c7"/>
<circle cx="320.3" cy="288.48" r="1.65" fill="#2593c7"/>
<circle cx="334.9" cy="287.37" r="1.65" fill="#2593c7"/>
<circle cx="320.3" cy="289.9" r="1.65" fill="#2593c7"/>
<circle cx="334.9" cy="296.47" r="1.65" fill="#2593c7"/>
<circle cx="320.3" cy="292.09" r="1.65" fill="#2593c7"/>
<circle cx="334.9" cy="291.48" r="1.65" fill="#2593c7"/>
<circle cx="320.3" cy="292.82" r="1.65" fill="#2593c7"/>
<circle cx="334.9" cy="294.36" r="1.65" fill="#2593c7"/>
<line x1="363.6" y1="243.78" x2="378.1" y2="236.49" stroke="#b8123c" stroke-width="1.1" />
<line x1="363.6" y1="244.51" x2="378.1" y2="240.9" stroke="#b8123c" stroke-width="1.1" />
<line x1="363.6" y1="257.91" x2="378.1" y2="253.11" stroke="#b8123c" stroke-width="1.1" />
<circle cx="363.6" cy="243.78" r="1.65" fill="#a50c33"/>
<circle cx="378.1" cy="236.49" r="1.65" fill="#a50c33"/>
<circle cx="363.6" cy="244.51" r="1.65" fill="#a50c33"/>
<circle cx="378.1" cy="240.9" r="1.65" fill="#a50c33"/>
<circle cx="363.6" cy="257.91" r="1.65" fill="#a50c33"/>
<circle cx="378.1" cy="253.11" r="1.65" fill="#a50c33"/>
<text x="405.4" y="212.3" font-size="12.6" text-anchor="start" fill="#000" font-weight="bold" stroke="#000" stroke-width="0.35">H</text>
<line x1="438.8" y1="224.2" x2="438.8" y2="301.8" stroke="#000" stroke-width="1.1" />
<line x1="437" y1="301.8" x2="440.6" y2="301.8" stroke="#000" stroke-width="1.1" />
<line x1="438.8" y1="307.6" x2="438.8" y2="315.6" stroke="#000" stroke-width="1.1" />
<line x1="437" y1="307.6" x2="440.6" y2="307.6" stroke="#000" stroke-width="1.1" />
<text x="432" y="310.5" font-size="6.9" text-anchor="end" fill="#231f20" font-weight="normal" letter-spacing="0.2" stroke="#231f20" stroke-width="0.12">0.45</text>
<text x="432" y="317.6" font-size="6.9" text-anchor="end" fill="#231f20" font-weight="normal" letter-spacing="0.2" stroke="#231f20" stroke-width="0.12">0.00</text>
<line x1="435.5" y1="301.2" x2="438.8" y2="301.2" stroke="#000" stroke-width="1.1" />
<text x="432" y="303.8" font-size="6.9" text-anchor="end" fill="#231f20" font-weight="normal" letter-spacing="0.2" stroke="#231f20" stroke-width="0.12">0.45</text>
<line x1="435.5" y1="286.44" x2="438.8" y2="286.44" stroke="#000" stroke-width="1.1" />
<text x="432" y="289.04" font-size="6.9" text-anchor="end" fill="#231f20" font-weight="normal" letter-spacing="0.2" stroke="#231f20" stroke-width="0.12">0.50</text>
<line x1="435.5" y1="271.68" x2="438.8" y2="271.68" stroke="#000" stroke-width="1.1" />
<text x="432" y="274.28" font-size="6.9" text-anchor="end" fill="#231f20" font-weight="normal" letter-spacing="0.2" stroke="#231f20" stroke-width="0.12">0.55</text>
<line x1="435.5" y1="256.92" x2="438.8" y2="256.92" stroke="#000" stroke-width="1.1" />
<text x="432" y="259.52" font-size="6.9" text-anchor="end" fill="#231f20" font-weight="normal" letter-spacing="0.2" stroke="#231f20" stroke-width="0.12">0.60</text>
<line x1="435.5" y1="242.16" x2="438.8" y2="242.16" stroke="#000" stroke-width="1.1" />
<text x="432" y="244.76" font-size="6.9" text-anchor="end" fill="#231f20" font-weight="normal" letter-spacing="0.2" stroke="#231f20" stroke-width="0.12">0.65</text>
<line x1="435.5" y1="227.4" x2="438.8" y2="227.4" stroke="#000" stroke-width="1.1" />
<text x="432" y="230" font-size="6.9" text-anchor="end" fill="#231f20" font-weight="normal" letter-spacing="0.2" stroke="#231f20" stroke-width="0.12">0.70</text>
<line x1="435.5" y1="315.6" x2="513" y2="315.6" stroke="#000" stroke-width="1.1" />
<line x1="447.9" y1="315.6" x2="447.9" y2="318.8" stroke="#000" stroke-width="1.1" />
<line x1="461.4" y1="315.6" x2="461.4" y2="318.8" stroke="#000" stroke-width="1.1" />
<line x1="489.6" y1="315.6" x2="489.6" y2="318.8" stroke="#000" stroke-width="1.1" />
<line x1="503.3" y1="315.6" x2="503.3" y2="318.8" stroke="#000" stroke-width="1.1" />
<text transform="translate(449.2,325.2) rotate(-45)" font-size="6.7" text-anchor="end" fill="#231f20" stroke="#231f20" stroke-width="0.16">Vehicle</text>
<text transform="translate(462.7,325.2) rotate(-45)" font-size="6.7" text-anchor="end" fill="#231f20" stroke="#231f20" stroke-width="0.16">Tebapivat 2 μM</text>
<text transform="translate(490.9,325.2) rotate(-45)" font-size="6.7" text-anchor="end" fill="#231f20" stroke="#231f20" stroke-width="0.16">Vehicle</text>
<text transform="translate(504.6,325.2) rotate(-45)" font-size="6.7" text-anchor="end" fill="#231f20" stroke="#231f20" stroke-width="0.16">Tebapivat 2 μM</text>
<text transform="translate(412.2,267.6) rotate(-90)" font-size="8" text-anchor="middle" fill="#231f20" stroke="#231f20" stroke-width="0.22">EI <tspan font-size="6">max</tspan></text>
<path d="M447.7,263.6 V252.4 H461.5 V265.3" fill="none" stroke="#262626" stroke-width="1.2"/>
<text x="454.8" y="251.9" font-size="6.8" text-anchor="middle" fill="#262626" font-weight="normal" >*</text>
<line x1="447.9" y1="268.43" x2="461.4" y2="269.91" stroke="#2d9fd3" stroke-width="1.1" />
<line x1="447.9" y1="269.32" x2="461.4" y2="271.09" stroke="#2d9fd3" stroke-width="1.1" />
<line x1="447.9" y1="272.27" x2="461.4" y2="279.06" stroke="#2d9fd3" stroke-width="1.1" />
<line x1="447.9" y1="274.63" x2="461.4" y2="273.45" stroke="#2d9fd3" stroke-width="1.1" />
<line x1="447.9" y1="279.06" x2="461.4" y2="275.22" stroke="#2d9fd3" stroke-width="1.1" />
<circle cx="447.9" cy="268.43" r="1.65" fill="#2593c7"/>
<circle cx="461.4" cy="269.91" r="1.65" fill="#2593c7"/>
<circle cx="447.9" cy="269.32" r="1.65" fill="#2593c7"/>
<circle cx="461.4" cy="271.09" r="1.65" fill="#2593c7"/>
<circle cx="447.9" cy="272.27" r="1.65" fill="#2593c7"/>
<circle cx="461.4" cy="279.06" r="1.65" fill="#2593c7"/>
<circle cx="447.9" cy="274.63" r="1.65" fill="#2593c7"/>
<circle cx="461.4" cy="273.45" r="1.65" fill="#2593c7"/>
<circle cx="447.9" cy="279.06" r="1.65" fill="#2593c7"/>
<circle cx="461.4" cy="275.22" r="1.65" fill="#2593c7"/>
<line x1="489.6" y1="261.05" x2="503.3" y2="261.94" stroke="#b8123c" stroke-width="1.1" />
<line x1="489.6" y1="267.84" x2="503.3" y2="268.73" stroke="#b8123c" stroke-width="1.1" />
<circle cx="489.6" cy="261.05" r="1.65" fill="#a50c33"/>
<circle cx="503.3" cy="261.94" r="1.65" fill="#a50c33"/>
<circle cx="489.6" cy="267.84" r="1.65" fill="#a50c33"/>
<circle cx="503.3" cy="268.73" r="1.65" fill="#a50c33"/>
<path d="M57.5,467 57.9,463.4 59.3,457.8 60.7,451.3 62.1,444.8 64,437.3 65.5,435.5 67.7,435 70.5,435.2 72.8,436 73.8,438.3 75.2,446.6 76.1,456 76.8,463 77.5,470.5 79.3,467 80.7,462.5 81.8,457 83.2,451 84.9,445.4 86.7,440.5 88.6,436.1 90.4,432.6 92.3,429.6 94.2,427.1 96.1,424.9 98.3,423 100.53,421.2 102.98,419.6 105.48,418.2 108.13,416.6 110.8,415.2 115.5,413.8 120,413.2 126,413.6 132,415 138.1,417.3 142,419.8 145.8,422.7 149,426 151.9,429.6 154.3,433.3 156.5,437.3 159,442 162,446.5 164.6,452 167,457.3 169.6,465 172.5,474 176.5,483 180,490.5 182.5,495.5 184.6,500.3 167.5,500.3 165.5,492 163.5,485 161.8,480 160,475 158.3,470 156.5,465 155,460.4 153.5,455.8 151.6,450.4 149.6,445 147.8,440.3 145.8,435.8 143.7,431.8 141.2,428 138.3,424.5 135,421.9 132,420 128.8,418.8 125,418.3 121,418.3 116.5,419.5 112,421.8 109.3,425.8 106.3,428.4 103.5,431.4 101.1,435 98.9,438.9 96.5,443.8 94.2,449.1 92.3,454 90.5,460 88.7,465.6 86.9,471.4 83.9,478.8 81.8,484.8 79.3,486.3 76.5,485 74.4,483.3 72.9,478.8 71.5,474.4 68,472 64,470.5 60.5,469 Z M67.7,457 69.1,454.1 70.5,456 71,461 70.5,465.3 68.5,465 67.6,461 Z" fill="#c0c0c4" fill-rule="evenodd"/>
<path d="M53.5,474.5 C53.75,473.85 54.42,471.98 55,470.6 C55.58,469.22 56.3,467.72 57,466.2 C57.7,464.68 58.5,462.95 59.2,461.5 C59.9,460.05 60.57,458.5 61.2,457.5 C61.83,456.5 62.42,455.5 63,455.5 C63.58,455.5 64.17,456.33 64.7,457.5 C65.23,458.67 65.65,461 66.2,462.5 C66.75,464 67.4,465.87 68,466.5 C68.6,467.13 69.17,466.8 69.8,466.3 C70.43,465.8 71.1,464.63 71.8,463.5 C72.5,462.37 73.22,461.08 74,459.5 C74.78,457.92 75.75,455.72 76.5,454 C77.25,452.28 77.85,450.7 78.5,449.2 C79.15,447.7 79.72,446.5 80.4,445 C81.08,443.5 81.8,441.87 82.6,440.2 C83.4,438.53 84.27,436.65 85.2,435 C86.13,433.35 86.98,431.75 88.2,430.3 C89.42,428.85 91.12,427.55 92.5,426.3 C93.88,425.05 95.08,423.85 96.5,422.8 C97.92,421.75 99.42,420.8 101,420 C102.58,419.2 104.33,418.45 106,418 C107.67,417.55 109.42,417.37 111,417.3 C112.58,417.23 114.17,417.35 115.5,417.6 C116.83,417.85 117.83,418.23 119,418.8 C120.17,419.37 121.4,420.2 122.5,421 C123.6,421.8 124.63,422.65 125.6,423.6 C126.57,424.55 127.57,425.6 128.3,426.7 C129.03,427.8 129.35,428.93 130,430.2 C130.65,431.47 131.52,432.92 132.2,434.3 C132.88,435.68 133.5,437.05 134.1,438.5 C134.7,439.95 135.25,441.5 135.8,443 C136.35,444.5 136.9,446 137.4,447.5 C137.9,449 138.33,450.45 138.8,452 C139.27,453.55 139.75,455.22 140.2,456.8 C140.65,458.38 141.07,459.97 141.5,461.5 C141.93,463.03 142.33,464.42 142.8,466 C143.27,467.58 143.77,469.25 144.3,471 C144.83,472.75 145.38,474.58 146,476.5 C146.62,478.42 147.37,480.67 148,482.5 C148.63,484.33 149.17,485.83 149.8,487.5 C150.43,489.17 151.1,490.88 151.8,492.5 C152.5,494.12 153.38,495.95 154,497.2 C154.62,498.45 155.25,499.53 155.5,500" fill="none" stroke="#79b4d3" stroke-width="0.75"/>
<path d="M53.7,474.6 C53.92,474 54.45,472.27 55,471 C55.55,469.73 56.25,468.58 57,467 C57.75,465.42 58.75,463 59.5,461.5 C60.25,460 60.88,459.08 61.5,458 C62.12,456.92 62.72,455.63 63.2,455 C63.68,454.37 63.97,453.87 64.4,454.2 C64.83,454.53 65.32,455.78 65.8,457 C66.28,458.22 66.83,460.12 67.3,461.5 C67.77,462.88 68.1,464.72 68.6,465.3 C69.1,465.88 69.68,465.5 70.3,465 C70.92,464.5 71.65,463.33 72.3,462.3 C72.95,461.27 73.5,460.35 74.2,458.8 C74.9,457.25 75.78,454.72 76.5,453 C77.22,451.28 77.5,450.82 78.5,448.5 C79.5,446.18 81.52,441.43 82.5,439.1 C83.48,436.77 83.78,435.82 84.4,434.5 C85.02,433.18 85.58,432.28 86.2,431.2 C86.82,430.12 87,429.2 88.1,428 C89.2,426.8 91.25,425.05 92.8,424 C94.35,422.95 95.85,422.35 97.4,421.7 C98.95,421.05 100.55,420.32 102.1,420.1 C103.65,419.88 105.35,420.08 106.7,420.4 C108.05,420.72 109.15,421.4 110.2,422 C111.25,422.6 111.88,422.95 113,424 C114.12,425.05 115.75,426.82 116.9,428.3 C118.05,429.78 118.9,431.07 119.9,432.9 C120.9,434.73 122.02,437.23 122.9,439.3 C123.78,441.37 124.48,443.3 125.2,445.3 C125.92,447.3 126.53,449.3 127.2,451.3 C127.87,453.3 128.53,455.35 129.2,457.3 C129.87,459.25 130.43,461.08 131.2,463 C131.97,464.92 132.88,466.75 133.8,468.8 C134.72,470.85 135.73,473.2 136.7,475.3 C137.67,477.4 138.63,479.57 139.6,481.4 C140.57,483.23 141.55,484.77 142.5,486.3 C143.45,487.83 144.35,489.22 145.3,490.6 C146.25,491.98 147.23,493.35 148.2,494.6 C149.17,495.85 150.35,497.23 151.1,498.1 C151.85,498.97 152.43,499.52 152.7,499.8" fill="none" stroke="#7fd8f2" stroke-width="0.85"/>
<path d="M54.2,474 C54.43,473.37 55.07,471.45 55.6,470.2 C56.13,468.95 56.78,467.67 57.4,466.5 C58.02,465.33 58.67,464.25 59.3,463.2 C59.93,462.15 60.58,460.93 61.2,460.2 C61.82,459.47 62.43,458.75 63,458.8 C63.57,458.85 64.05,459.6 64.6,460.5 C65.15,461.4 65.63,463.28 66.3,464.2 C66.97,465.12 67.9,465.78 68.6,466 C69.3,466.22 69.87,465.93 70.5,465.5 C71.13,465.07 71.68,464.65 72.4,463.4 C73.12,462.15 74.03,459.82 74.8,458 C75.57,456.18 76.37,454.12 77,452.5 C77.63,450.88 78.13,449.55 78.6,448.3 C79.07,447.05 79.27,446.5 79.8,445 C80.33,443.5 81.15,441.02 81.8,439.3 C82.45,437.58 83.08,436.02 83.7,434.7 C84.32,433.38 84.88,432.48 85.5,431.4 C86.12,430.32 86.3,429.4 87.4,428.2 C88.5,427 90.55,425.25 92.1,424.2 C93.65,423.15 95.15,422.55 96.7,421.9 C98.25,421.25 99.85,420.52 101.4,420.3 C102.95,420.08 104.65,420.28 106,420.6 C107.35,420.92 108.45,421.6 109.5,422.2 C110.55,422.8 111.18,423.15 112.3,424.2 C113.42,425.25 115.05,427.02 116.2,428.5 C117.35,429.98 118.2,431.27 119.2,433.1 C120.2,434.93 121.32,437.43 122.2,439.5 C123.08,441.57 123.78,443.5 124.5,445.5 C125.22,447.5 125.83,449.5 126.5,451.5 C127.17,453.5 127.83,455.55 128.5,457.5 C129.17,459.45 129.73,461.28 130.5,463.2 C131.27,465.12 132.18,466.95 133.1,469 C134.02,471.05 135.03,473.4 136,475.5 C136.97,477.6 137.93,479.77 138.9,481.6 C139.87,483.43 140.85,484.97 141.8,486.5 C142.75,488.03 143.65,489.42 144.6,490.8 C145.55,492.18 146.53,493.55 147.5,494.8 C148.47,496.05 149.65,497.43 150.4,498.3 C151.15,499.17 151.73,499.72 152,500" fill="none" stroke="#2785b3" stroke-width="1.4" stroke-dasharray="2.8 1.2"/>
<text x="12.2" y="385.5" font-size="12.6" text-anchor="start" fill="#000" font-weight="bold" stroke="#000" stroke-width="0.3">I</text>
<line x1="41.5" y1="405.6" x2="41.5" y2="500.5" stroke="#000" stroke-width="1.1" />
<line x1="38.1" y1="500.5" x2="41.5" y2="500.5" stroke="#000" stroke-width="0.9" />
<line x1="39.9" y1="497.64" x2="41.5" y2="497.64" stroke="#000" stroke-width="0.7" />
<line x1="39.9" y1="494.78" x2="41.5" y2="494.78" stroke="#000" stroke-width="0.7" />
<line x1="39.9" y1="491.92" x2="41.5" y2="491.92" stroke="#000" stroke-width="0.7" />
<line x1="39.9" y1="489.06" x2="41.5" y2="489.06" stroke="#000" stroke-width="0.7" />
<line x1="39.9" y1="486.2" x2="41.5" y2="486.2" stroke="#000" stroke-width="0.7" />
<line x1="39.9" y1="483.34" x2="41.5" y2="483.34" stroke="#000" stroke-width="0.7" />
<line x1="39.9" y1="480.48" x2="41.5" y2="480.48" stroke="#000" stroke-width="0.7" />
<line x1="39.9" y1="477.62" x2="41.5" y2="477.62" stroke="#000" stroke-width="0.7" />
<line x1="39.9" y1="474.76" x2="41.5" y2="474.76" stroke="#000" stroke-width="0.7" />
<line x1="38.1" y1="471.9" x2="41.5" y2="471.9" stroke="#000" stroke-width="0.9" />
<line x1="39.9" y1="469.04" x2="41.5" y2="469.04" stroke="#000" stroke-width="0.7" />
<line x1="39.9" y1="466.18" x2="41.5" y2="466.18" stroke="#000" stroke-width="0.7" />
<line x1="39.9" y1="463.32" x2="41.5" y2="463.32" stroke="#000" stroke-width="0.7" />
<line x1="39.9" y1="460.46" x2="41.5" y2="460.46" stroke="#000" stroke-width="0.7" />
<line x1="39.9" y1="457.6" x2="41.5" y2="457.6" stroke="#000" stroke-width="0.7" />
<line x1="39.9" y1="454.74" x2="41.5" y2="454.74" stroke="#000" stroke-width="0.7" />
<line x1="39.9" y1="451.88" x2="41.5" y2="451.88" stroke="#000" stroke-width="0.7" />
<line x1="39.9" y1="449.02" x2="41.5" y2="449.02" stroke="#000" stroke-width="0.7" />
<line x1="39.9" y1="446.16" x2="41.5" y2="446.16" stroke="#000" stroke-width="0.7" />
<line x1="38.1" y1="443.3" x2="41.5" y2="443.3" stroke="#000" stroke-width="0.9" />
<line x1="39.9" y1="440.44" x2="41.5" y2="440.44" stroke="#000" stroke-width="0.7" />
<line x1="39.9" y1="437.58" x2="41.5" y2="437.58" stroke="#000" stroke-width="0.7" />
<line x1="39.9" y1="434.72" x2="41.5" y2="434.72" stroke="#000" stroke-width="0.7" />
<line x1="39.9" y1="431.86" x2="41.5" y2="431.86" stroke="#000" stroke-width="0.7" />
<line x1="39.9" y1="429" x2="41.5" y2="429" stroke="#000" stroke-width="0.7" />
<line x1="39.9" y1="426.14" x2="41.5" y2="426.14" stroke="#000" stroke-width="0.7" />
<line x1="39.9" y1="423.28" x2="41.5" y2="423.28" stroke="#000" stroke-width="0.7" />
<line x1="39.9" y1="420.42" x2="41.5" y2="420.42" stroke="#000" stroke-width="0.7" />
<line x1="39.9" y1="417.56" x2="41.5" y2="417.56" stroke="#000" stroke-width="0.7" />
<line x1="38.1" y1="414.7" x2="41.5" y2="414.7" stroke="#000" stroke-width="0.9" />
<line x1="39.9" y1="411.84" x2="41.5" y2="411.84" stroke="#000" stroke-width="0.7" />
<line x1="39.9" y1="408.98" x2="41.5" y2="408.98" stroke="#000" stroke-width="0.7" />
<line x1="39.9" y1="406.12" x2="41.5" y2="406.12" stroke="#000" stroke-width="0.7" />
<text x="34.9" y="503.1" font-size="6.9" text-anchor="end" fill="#231f20" font-weight="normal" letter-spacing="0.2" stroke="#231f20" stroke-width="0.12">0.0</text>
<text x="34.9" y="474.5" font-size="6.9" text-anchor="end" fill="#231f20" font-weight="normal" letter-spacing="0.2" stroke="#231f20" stroke-width="0.12">0.2</text>
<text x="34.9" y="445.9" font-size="6.9" text-anchor="end" fill="#231f20" font-weight="normal" letter-spacing="0.2" stroke="#231f20" stroke-width="0.12">0.4</text>
<text x="34.9" y="417.3" font-size="6.9" text-anchor="end" fill="#231f20" font-weight="normal" letter-spacing="0.2" stroke="#231f20" stroke-width="0.12">0.6</text>
<line x1="38.1" y1="500.5" x2="216.5" y2="500.5" stroke="#000" stroke-width="1.1" />
<line x1="41.5" y1="500.5" x2="41.5" y2="503.9" stroke="#000" stroke-width="0.9" />
<line x1="44.13" y1="500.5" x2="44.13" y2="502.3" stroke="#000" stroke-width="0.7" />
<line x1="46.76" y1="500.5" x2="46.76" y2="502.3" stroke="#000" stroke-width="0.7" />
<line x1="49.39" y1="500.5" x2="49.39" y2="502.3" stroke="#000" stroke-width="0.7" />
<line x1="52.02" y1="500.5" x2="52.02" y2="502.3" stroke="#000" stroke-width="0.7" />
<line x1="54.65" y1="500.5" x2="54.65" y2="502.3" stroke="#000" stroke-width="0.7" />
<line x1="57.28" y1="500.5" x2="57.28" y2="502.3" stroke="#000" stroke-width="0.7" />
<line x1="59.91" y1="500.5" x2="59.91" y2="502.3" stroke="#000" stroke-width="0.7" />
<line x1="62.54" y1="500.5" x2="62.54" y2="502.3" stroke="#000" stroke-width="0.7" />
<line x1="65.17" y1="500.5" x2="65.17" y2="502.3" stroke="#000" stroke-width="0.7" />
<line x1="67.8" y1="500.5" x2="67.8" y2="503.9" stroke="#000" stroke-width="0.9" />
<line x1="70.43" y1="500.5" x2="70.43" y2="502.3" stroke="#000" stroke-width="0.7" />
<line x1="73.06" y1="500.5" x2="73.06" y2="502.3" stroke="#000" stroke-width="0.7" />
<line x1="75.69" y1="500.5" x2="75.69" y2="502.3" stroke="#000" stroke-width="0.7" />
<line x1="78.32" y1="500.5" x2="78.32" y2="502.3" stroke="#000" stroke-width="0.7" />
<line x1="80.95" y1="500.5" x2="80.95" y2="502.3" stroke="#000" stroke-width="0.7" />
<line x1="83.58" y1="500.5" x2="83.58" y2="502.3" stroke="#000" stroke-width="0.7" />
<line x1="86.21" y1="500.5" x2="86.21" y2="502.3" stroke="#000" stroke-width="0.7" />
<line x1="88.84" y1="500.5" x2="88.84" y2="502.3" stroke="#000" stroke-width="0.7" />
<line x1="91.47" y1="500.5" x2="91.47" y2="502.3" stroke="#000" stroke-width="0.7" />
<line x1="94.1" y1="500.5" x2="94.1" y2="503.9" stroke="#000" stroke-width="0.9" />
<line x1="96.73" y1="500.5" x2="96.73" y2="502.3" stroke="#000" stroke-width="0.7" />
<line x1="99.36" y1="500.5" x2="99.36" y2="502.3" stroke="#000" stroke-width="0.7" />
<line x1="101.99" y1="500.5" x2="101.99" y2="502.3" stroke="#000" stroke-width="0.7" />
<line x1="104.62" y1="500.5" x2="104.62" y2="502.3" stroke="#000" stroke-width="0.7" />
<line x1="107.25" y1="500.5" x2="107.25" y2="502.3" stroke="#000" stroke-width="0.7" />
<line x1="109.88" y1="500.5" x2="109.88" y2="502.3" stroke="#000" stroke-width="0.7" />
<line x1="112.51" y1="500.5" x2="112.51" y2="502.3" stroke="#000" stroke-width="0.7" />
<line x1="115.14" y1="500.5" x2="115.14" y2="502.3" stroke="#000" stroke-width="0.7" />
<line x1="117.77" y1="500.5" x2="117.77" y2="502.3" stroke="#000" stroke-width="0.7" />
<line x1="120.4" y1="500.5" x2="120.4" y2="503.9" stroke="#000" stroke-width="0.9" />
<line x1="123.03" y1="500.5" x2="123.03" y2="502.3" stroke="#000" stroke-width="0.7" />
<line x1="125.66" y1="500.5" x2="125.66" y2="502.3" stroke="#000" stroke-width="0.7" />
<line x1="128.29" y1="500.5" x2="128.29" y2="502.3" stroke="#000" stroke-width="0.7" />
<line x1="130.92" y1="500.5" x2="130.92" y2="502.3" stroke="#000" stroke-width="0.7" />
<line x1="133.55" y1="500.5" x2="133.55" y2="502.3" stroke="#000" stroke-width="0.7" />
<line x1="136.18" y1="500.5" x2="136.18" y2="502.3" stroke="#000" stroke-width="0.7" />
<line x1="138.81" y1="500.5" x2="138.81" y2="502.3" stroke="#000" stroke-width="0.7" />
<line x1="141.44" y1="500.5" x2="141.44" y2="502.3" stroke="#000" stroke-width="0.7" />
<line x1="144.07" y1="500.5" x2="144.07" y2="502.3" stroke="#000" stroke-width="0.7" />
<line x1="146.7" y1="500.5" x2="146.7" y2="503.9" stroke="#000" stroke-width="0.9" />
<line x1="149.33" y1="500.5" x2="149.33" y2="502.3" stroke="#000" stroke-width="0.7" />
<line x1="151.96" y1="500.5" x2="151.96" y2="502.3" stroke="#000" stroke-width="0.7" />
<line x1="154.59" y1="500.5" x2="154.59" y2="502.3" stroke="#000" stroke-width="0.7" />
<line x1="157.22" y1="500.5" x2="157.22" y2="502.3" stroke="#000" stroke-width="0.7" />
<line x1="159.85" y1="500.5" x2="159.85" y2="502.3" stroke="#000" stroke-width="0.7" />
<line x1="162.48" y1="500.5" x2="162.48" y2="502.3" stroke="#000" stroke-width="0.7" />
<line x1="165.11" y1="500.5" x2="165.11" y2="502.3" stroke="#000" stroke-width="0.7" />
<line x1="167.74" y1="500.5" x2="167.74" y2="502.3" stroke="#000" stroke-width="0.7" />
<line x1="170.37" y1="500.5" x2="170.37" y2="502.3" stroke="#000" stroke-width="0.7" />
<line x1="173" y1="500.5" x2="173" y2="503.9" stroke="#000" stroke-width="0.9" />
<line x1="175.63" y1="500.5" x2="175.63" y2="502.3" stroke="#000" stroke-width="0.7" />
<line x1="178.26" y1="500.5" x2="178.26" y2="502.3" stroke="#000" stroke-width="0.7" />
<line x1="180.89" y1="500.5" x2="180.89" y2="502.3" stroke="#000" stroke-width="0.7" />
<line x1="183.52" y1="500.5" x2="183.52" y2="502.3" stroke="#000" stroke-width="0.7" />
<line x1="186.15" y1="500.5" x2="186.15" y2="502.3" stroke="#000" stroke-width="0.7" />
<line x1="188.78" y1="500.5" x2="188.78" y2="502.3" stroke="#000" stroke-width="0.7" />
<line x1="191.41" y1="500.5" x2="191.41" y2="502.3" stroke="#000" stroke-width="0.7" />
<line x1="194.04" y1="500.5" x2="194.04" y2="502.3" stroke="#000" stroke-width="0.7" />
<line x1="196.67" y1="500.5" x2="196.67" y2="502.3" stroke="#000" stroke-width="0.7" />
<line x1="199.3" y1="500.5" x2="199.3" y2="503.9" stroke="#000" stroke-width="0.9" />
<line x1="201.93" y1="500.5" x2="201.93" y2="502.3" stroke="#000" stroke-width="0.7" />
<line x1="204.56" y1="500.5" x2="204.56" y2="502.3" stroke="#000" stroke-width="0.7" />
<line x1="207.19" y1="500.5" x2="207.19" y2="502.3" stroke="#000" stroke-width="0.7" />
<line x1="209.82" y1="500.5" x2="209.82" y2="502.3" stroke="#000" stroke-width="0.7" />
<line x1="212.45" y1="500.5" x2="212.45" y2="502.3" stroke="#000" stroke-width="0.7" />
<line x1="215.08" y1="500.5" x2="215.08" y2="502.3" stroke="#000" stroke-width="0.7" />
<text x="41.6" y="512.9" font-size="6.9" text-anchor="middle" fill="#231f20" font-weight="normal" letter-spacing="0.2" stroke="#231f20" stroke-width="0.12">0</text>
<text x="67.9" y="512.9" font-size="6.9" text-anchor="middle" fill="#231f20" font-weight="normal" letter-spacing="0.2" stroke="#231f20" stroke-width="0.12">100</text>
<text x="94.2" y="512.9" font-size="6.9" text-anchor="middle" fill="#231f20" font-weight="normal" letter-spacing="0.2" stroke="#231f20" stroke-width="0.12">200</text>
<text x="120.5" y="512.9" font-size="6.9" text-anchor="middle" fill="#231f20" font-weight="normal" letter-spacing="0.2" stroke="#231f20" stroke-width="0.12">300</text>
<text x="146.8" y="512.9" font-size="6.9" text-anchor="middle" fill="#231f20" font-weight="normal" letter-spacing="0.2" stroke="#231f20" stroke-width="0.12">400</text>
<text x="173.1" y="512.9" font-size="6.9" text-anchor="middle" fill="#231f20" font-weight="normal" letter-spacing="0.2" stroke="#231f20" stroke-width="0.12">500</text>
<text x="199.4" y="512.9" font-size="6.9" text-anchor="middle" fill="#231f20" font-weight="normal" letter-spacing="0.2" stroke="#231f20" stroke-width="0.12">600</text>
<text x="129.2" y="528" font-size="8.2" text-anchor="middle" fill="#231f20" font-weight="normal" textLength="63.7" lengthAdjust="spacingAndGlyphs" stroke="#231f20" stroke-width="0.2">Osmolality (mOsm/kg)</text>
<text transform="translate(18.7,452.8) rotate(-90)" x="0" y="0" font-size="8.2" text-anchor="middle" fill="#231f20" stroke="#231f20" stroke-width="0.22" textLength="46.3" lengthAdjust="spacingAndGlyphs">Elongation index</text>
<text x="128.5" y="400" font-size="8.6" text-anchor="middle" fill="#222" font-weight="normal" >PIEZO1</text>
<line x1="186.5" y1="409.5" x2="196.1" y2="409.5" stroke="#858587" stroke-width="1.2" />
<text x="199.1" y="411.95" font-size="6.8" text-anchor="start" fill="#222" font-weight="normal" stroke="#222" stroke-width="0.12">Healthy controls</text>
<line x1="186.5" y1="420.3" x2="196.1" y2="420.3" stroke="#7fd8f2" stroke-width="0.8" />
<text x="199.1" y="422.75" font-size="6.8" text-anchor="start" fill="#222" font-weight="normal" stroke="#222" stroke-width="0.12">Whole blood</text>
<line x1="186.5" y1="431.5" x2="196.1" y2="431.5" stroke="#2785b3" stroke-width="1.2" stroke-dasharray="3.7 1.3"/>
<text x="199.1" y="433.95" font-size="6.8" text-anchor="start" fill="#222" font-weight="normal" stroke="#222" stroke-width="0.12">Vehicle</text>
<line x1="186.5" y1="441.8" x2="196.1" y2="441.8" stroke="#b3d3de" stroke-width="0.7" />
<text x="199.1" y="444.25" font-size="6.8" text-anchor="start" fill="#222" font-weight="normal" stroke="#222" stroke-width="0.12">Tebapivat 2 μM</text>
<path d="M311.1,468.5 311.7,458 312.8,446.8 314.5,440 316.5,436 319,434.8 322,434.8 324.5,436.5 326,440 326.8,444.5 328.5,452.3 330.3,458.5 331.6,462 333.1,461.5 334.6,455 336.1,448.8 338,443.3 340.2,438.5 342.7,433.6 345.4,429.3 348,426 350.5,423.2 353.5,420.4 356.6,418.1 360,416.3 365,414.4 370.4,413.3 375.5,413.1 380.2,413.4 385,414.8 392.4,417.6 401,422.2 408.3,430 414.1,444 418.2,454.5 422.2,467 426.4,479.5 431.5,490.7 434.8,495.5 437.8,500.3 423.2,500.3 422.2,498.1 417.6,488.8 412.9,477.6 408.3,462.7 404.6,449.7 400.8,438.5 397.1,429.2 392.4,423.6 385,419.6 377,417.6 372,418.3 367,420 362.5,422.7 358.5,426.4 355,430.9 352,435.9 349.2,441.4 346.5,448.4 343.8,456.4 340,467 336.3,476.5 333,484.5 330,486.3 326.2,483.6 323.4,476 322,468 321.5,461 321.3,455 319.8,459.5 317.8,466.5 314.5,468.2 Z" fill="#c0c0c4"/>
<path d="M321.8,497.4 C321.85,496.07 321.98,491.85 322.1,489.4 C322.22,486.95 322.32,485.48 322.5,482.7 C322.68,479.92 322.92,475.12 323.2,472.7 C323.48,470.28 323.85,469.5 324.2,468.2 C324.55,466.9 324.92,465.9 325.3,464.9 C325.68,463.9 326.13,462.8 326.5,462.2 C326.87,461.6 327.12,461.38 327.5,461.3 C327.88,461.22 328.32,461.35 328.8,461.7 C329.28,462.05 329.87,462.73 330.4,463.4 C330.93,464.07 331.53,464.98 332,465.7 C332.47,466.42 332.82,467.03 333.2,467.7 C333.58,468.37 333.93,469.25 334.3,469.7 C334.67,470.15 334.98,470.28 335.4,470.4 C335.82,470.52 336.33,470.73 336.8,470.4 C337.27,470.07 337.67,469.53 338.2,468.4 C338.73,467.27 339.4,465.17 340,463.6 C340.6,462.03 341.13,460.7 341.8,459 C342.47,457.3 343.28,455.18 344,453.4 C344.72,451.62 345.38,449.88 346.1,448.3 C346.82,446.72 347.58,445.33 348.3,443.9 C349.02,442.47 349.7,441.12 350.4,439.7 C351.1,438.28 351.78,436.83 352.5,435.4 C353.22,433.97 353.83,432.57 354.7,431.1 C355.57,429.63 356.65,427.8 357.7,426.6 C358.75,425.4 359.68,424.93 361,423.9 C362.32,422.87 364.02,421.32 365.6,420.4 C367.18,419.48 368.87,418.93 370.5,418.4 C372.13,417.87 373.82,417.43 375.4,417.2 C376.98,416.97 378.26,416.93 380,417 C381.74,417.07 383.9,417.27 385.83,417.6 C387.76,417.93 389.6,418.4 391.6,419 C393.6,419.6 395.99,420.22 397.84,421.2 C399.69,422.18 401.21,423.45 402.7,424.9 C404.19,426.35 405.7,427.98 406.8,429.9 C407.9,431.82 408.33,433.35 409.3,436.4 C410.27,439.45 411.27,443.75 412.6,448.2 C413.93,452.65 415.73,458.43 417.3,463.1 C418.87,467.77 420.3,472.17 422,476.2 C423.7,480.23 425.65,483.9 427.5,487.3 C429.35,490.7 431.72,494.42 433.1,496.6 C434.48,498.78 435.35,499.77 435.8,500.4" fill="none" stroke="#dfa4b6" stroke-width="0.8"/>
<path d="M321.1,496.6 C321.15,495.27 321.28,491.05 321.4,488.6 C321.52,486.15 321.62,484.68 321.8,481.9 C321.98,479.12 322.22,474.32 322.5,471.9 C322.78,469.48 323.15,468.7 323.5,467.4 C323.85,466.1 324.22,465.1 324.6,464.1 C324.98,463.1 325.43,462 325.8,461.4 C326.17,460.8 326.42,460.58 326.8,460.5 C327.18,460.42 327.62,460.55 328.1,460.9 C328.58,461.25 329.17,461.93 329.7,462.6 C330.23,463.27 330.83,464.18 331.3,464.9 C331.77,465.62 332.12,466.23 332.5,466.9 C332.88,467.57 333.23,468.45 333.6,468.9 C333.97,469.35 334.28,469.48 334.7,469.6 C335.12,469.72 335.63,469.93 336.1,469.6 C336.57,469.27 336.97,468.73 337.5,467.6 C338.03,466.47 338.7,464.37 339.3,462.8 C339.9,461.23 340.43,459.9 341.1,458.2 C341.77,456.5 342.58,454.38 343.3,452.6 C344.02,450.82 344.68,449.08 345.4,447.5 C346.12,445.92 346.88,444.53 347.6,443.1 C348.32,441.67 349,440.32 349.7,438.9 C350.4,437.48 351.08,436.03 351.8,434.6 C352.52,433.17 353.13,431.77 354,430.3 C354.87,428.83 355.95,427 357,425.8 C358.05,424.6 358.98,424.13 360.3,423.1 C361.62,422.07 363.32,420.52 364.9,419.6 C366.48,418.68 368.17,418.13 369.8,417.6 C371.43,417.07 373.12,416.63 374.7,416.4 C376.28,416.17 377.75,416.13 379.3,416.2 C380.85,416.27 382.49,416.47 384.01,416.8 C385.54,417.13 386.91,417.6 388.45,418.2 C389.99,418.8 391.81,419.42 393.25,420.4 C394.69,421.38 395.77,422.65 397.1,424.1 C398.43,425.55 400.1,427.18 401.2,429.1 C402.3,431.02 402.73,432.55 403.7,435.6 C404.67,438.65 405.67,442.95 407,447.4 C408.33,451.85 410.13,457.63 411.7,462.3 C413.27,466.97 414.7,471.37 416.4,475.4 C418.1,479.43 420.05,483.1 421.9,486.5 C423.75,489.9 426.12,493.62 427.5,495.8 C428.88,497.98 429.75,498.97 430.2,499.6" fill="none" stroke="#ec6a8e" stroke-width="0.9"/>
<path d="M320.8,497 C320.85,495.67 320.98,491.45 321.1,489 C321.22,486.55 321.32,485.08 321.5,482.3 C321.68,479.52 321.92,474.72 322.2,472.3 C322.48,469.88 322.85,469.1 323.2,467.8 C323.55,466.5 323.92,465.5 324.3,464.5 C324.68,463.5 325.13,462.4 325.5,461.8 C325.87,461.2 326.12,460.98 326.5,460.9 C326.88,460.82 327.32,460.95 327.8,461.3 C328.28,461.65 328.87,462.33 329.4,463 C329.93,463.67 330.53,464.58 331,465.3 C331.47,466.02 331.82,466.63 332.2,467.3 C332.58,467.97 332.93,468.85 333.3,469.3 C333.67,469.75 333.98,469.88 334.4,470 C334.82,470.12 335.33,470.33 335.8,470 C336.27,469.67 336.67,469.13 337.2,468 C337.73,466.87 338.4,464.77 339,463.2 C339.6,461.63 340.13,460.3 340.8,458.6 C341.47,456.9 342.28,454.78 343,453 C343.72,451.22 344.38,449.48 345.1,447.9 C345.82,446.32 346.58,444.93 347.3,443.5 C348.02,442.07 348.7,440.72 349.4,439.3 C350.1,437.88 350.78,436.43 351.5,435 C352.22,433.57 352.83,432.17 353.7,430.7 C354.57,429.23 355.65,427.4 356.7,426.2 C357.75,425 358.68,424.53 360,423.5 C361.32,422.47 363.02,420.92 364.6,420 C366.18,419.08 367.87,418.53 369.5,418 C371.13,417.47 372.82,417.03 374.4,416.8 C375.98,416.57 377.38,416.53 379,416.6 C380.62,416.67 382.43,416.87 384.1,417.2 C385.77,417.53 387.3,418 389,418.6 C390.7,419.2 392.72,419.82 394.3,420.8 C395.88,421.78 397.12,423.05 398.5,424.5 C399.88,425.95 401.5,427.58 402.6,429.5 C403.7,431.42 404.13,432.95 405.1,436 C406.07,439.05 407.07,443.35 408.4,447.8 C409.73,452.25 411.53,458.03 413.1,462.7 C414.67,467.37 416.1,471.77 417.8,475.8 C419.5,479.83 421.45,483.5 423.3,486.9 C425.15,490.3 427.52,494.02 428.9,496.2 C430.28,498.38 431.15,499.37 431.6,500" fill="none" stroke="#a50f3b" stroke-width="1.4" stroke-dasharray="2.8 1.2"/>
<text x="267" y="385.6" font-size="12.6" text-anchor="start" fill="#000" font-weight="bold" textLength="4.2" lengthAdjust="spacingAndGlyphs" stroke="#000" stroke-width="0.3">J</text>
<line x1="293.5" y1="405.6" x2="293.5" y2="500.5" stroke="#000" stroke-width="1.1" />
<line x1="290.1" y1="500.5" x2="293.5" y2="500.5" stroke="#000" stroke-width="0.9" />
<line x1="291.9" y1="497.64" x2="293.5" y2="497.64" stroke="#000" stroke-width="0.7" />
<line x1="291.9" y1="494.78" x2="293.5" y2="494.78" stroke="#000" stroke-width="0.7" />
<line x1="291.9" y1="491.92" x2="293.5" y2="491.92" stroke="#000" stroke-width="0.7" />
<line x1="291.9" y1="489.06" x2="293.5" y2="489.06" stroke="#000" stroke-width="0.7" />
<line x1="291.9" y1="486.2" x2="293.5" y2="486.2" stroke="#000" stroke-width="0.7" />
<line x1="291.9" y1="483.34" x2="293.5" y2="483.34" stroke="#000" stroke-width="0.7" />
<line x1="291.9" y1="480.48" x2="293.5" y2="480.48" stroke="#000" stroke-width="0.7" />
<line x1="291.9" y1="477.62" x2="293.5" y2="477.62" stroke="#000" stroke-width="0.7" />
<line x1="291.9" y1="474.76" x2="293.5" y2="474.76" stroke="#000" stroke-width="0.7" />
<line x1="290.1" y1="471.9" x2="293.5" y2="471.9" stroke="#000" stroke-width="0.9" />
<line x1="291.9" y1="469.04" x2="293.5" y2="469.04" stroke="#000" stroke-width="0.7" />
<line x1="291.9" y1="466.18" x2="293.5" y2="466.18" stroke="#000" stroke-width="0.7" />
<line x1="291.9" y1="463.32" x2="293.5" y2="463.32" stroke="#000" stroke-width="0.7" />
<line x1="291.9" y1="460.46" x2="293.5" y2="460.46" stroke="#000" stroke-width="0.7" />
<line x1="291.9" y1="457.6" x2="293.5" y2="457.6" stroke="#000" stroke-width="0.7" />
<line x1="291.9" y1="454.74" x2="293.5" y2="454.74" stroke="#000" stroke-width="0.7" />
<line x1="291.9" y1="451.88" x2="293.5" y2="451.88" stroke="#000" stroke-width="0.7" />
<line x1="291.9" y1="449.02" x2="293.5" y2="449.02" stroke="#000" stroke-width="0.7" />
<line x1="291.9" y1="446.16" x2="293.5" y2="446.16" stroke="#000" stroke-width="0.7" />
<line x1="290.1" y1="443.3" x2="293.5" y2="443.3" stroke="#000" stroke-width="0.9" />
<line x1="291.9" y1="440.44" x2="293.5" y2="440.44" stroke="#000" stroke-width="0.7" />
<line x1="291.9" y1="437.58" x2="293.5" y2="437.58" stroke="#000" stroke-width="0.7" />
<line x1="291.9" y1="434.72" x2="293.5" y2="434.72" stroke="#000" stroke-width="0.7" />
<line x1="291.9" y1="431.86" x2="293.5" y2="431.86" stroke="#000" stroke-width="0.7" />
<line x1="291.9" y1="429" x2="293.5" y2="429" stroke="#000" stroke-width="0.7" />
<line x1="291.9" y1="426.14" x2="293.5" y2="426.14" stroke="#000" stroke-width="0.7" />
<line x1="291.9" y1="423.28" x2="293.5" y2="423.28" stroke="#000" stroke-width="0.7" />
<line x1="291.9" y1="420.42" x2="293.5" y2="420.42" stroke="#000" stroke-width="0.7" />
<line x1="291.9" y1="417.56" x2="293.5" y2="417.56" stroke="#000" stroke-width="0.7" />
<line x1="290.1" y1="414.7" x2="293.5" y2="414.7" stroke="#000" stroke-width="0.9" />
<line x1="291.9" y1="411.84" x2="293.5" y2="411.84" stroke="#000" stroke-width="0.7" />
<line x1="291.9" y1="408.98" x2="293.5" y2="408.98" stroke="#000" stroke-width="0.7" />
<line x1="291.9" y1="406.12" x2="293.5" y2="406.12" stroke="#000" stroke-width="0.7" />
<text x="286.9" y="503.1" font-size="6.9" text-anchor="end" fill="#231f20" font-weight="normal" letter-spacing="0.2" stroke="#231f20" stroke-width="0.12">0.0</text>
<text x="286.9" y="474.5" font-size="6.9" text-anchor="end" fill="#231f20" font-weight="normal" letter-spacing="0.2" stroke="#231f20" stroke-width="0.12">0.2</text>
<text x="286.9" y="445.9" font-size="6.9" text-anchor="end" fill="#231f20" font-weight="normal" letter-spacing="0.2" stroke="#231f20" stroke-width="0.12">0.4</text>
<text x="286.9" y="417.3" font-size="6.9" text-anchor="end" fill="#231f20" font-weight="normal" letter-spacing="0.2" stroke="#231f20" stroke-width="0.12">0.6</text>
<line x1="290.1" y1="500.5" x2="468.5" y2="500.5" stroke="#000" stroke-width="1.1" />
<line x1="293.5" y1="500.5" x2="293.5" y2="503.9" stroke="#000" stroke-width="0.9" />
<line x1="296.13" y1="500.5" x2="296.13" y2="502.3" stroke="#000" stroke-width="0.7" />
<line x1="298.76" y1="500.5" x2="298.76" y2="502.3" stroke="#000" stroke-width="0.7" />
<line x1="301.39" y1="500.5" x2="301.39" y2="502.3" stroke="#000" stroke-width="0.7" />
<line x1="304.02" y1="500.5" x2="304.02" y2="502.3" stroke="#000" stroke-width="0.7" />
<line x1="306.65" y1="500.5" x2="306.65" y2="502.3" stroke="#000" stroke-width="0.7" />
<line x1="309.28" y1="500.5" x2="309.28" y2="502.3" stroke="#000" stroke-width="0.7" />
<line x1="311.91" y1="500.5" x2="311.91" y2="502.3" stroke="#000" stroke-width="0.7" />
<line x1="314.54" y1="500.5" x2="314.54" y2="502.3" stroke="#000" stroke-width="0.7" />
<line x1="317.17" y1="500.5" x2="317.17" y2="502.3" stroke="#000" stroke-width="0.7" />
<line x1="319.8" y1="500.5" x2="319.8" y2="503.9" stroke="#000" stroke-width="0.9" />
<line x1="322.43" y1="500.5" x2="322.43" y2="502.3" stroke="#000" stroke-width="0.7" />
<line x1="325.06" y1="500.5" x2="325.06" y2="502.3" stroke="#000" stroke-width="0.7" />
<line x1="327.69" y1="500.5" x2="327.69" y2="502.3" stroke="#000" stroke-width="0.7" />
<line x1="330.32" y1="500.5" x2="330.32" y2="502.3" stroke="#000" stroke-width="0.7" />
<line x1="332.95" y1="500.5" x2="332.95" y2="502.3" stroke="#000" stroke-width="0.7" />
<line x1="335.58" y1="500.5" x2="335.58" y2="502.3" stroke="#000" stroke-width="0.7" />
<line x1="338.21" y1="500.5" x2="338.21" y2="502.3" stroke="#000" stroke-width="0.7" />
<line x1="340.84" y1="500.5" x2="340.84" y2="502.3" stroke="#000" stroke-width="0.7" />
<line x1="343.47" y1="500.5" x2="343.47" y2="502.3" stroke="#000" stroke-width="0.7" />
<line x1="346.1" y1="500.5" x2="346.1" y2="503.9" stroke="#000" stroke-width="0.9" />
<line x1="348.73" y1="500.5" x2="348.73" y2="502.3" stroke="#000" stroke-width="0.7" />
<line x1="351.36" y1="500.5" x2="351.36" y2="502.3" stroke="#000" stroke-width="0.7" />
<line x1="353.99" y1="500.5" x2="353.99" y2="502.3" stroke="#000" stroke-width="0.7" />
<line x1="356.62" y1="500.5" x2="356.62" y2="502.3" stroke="#000" stroke-width="0.7" />
<line x1="359.25" y1="500.5" x2="359.25" y2="502.3" stroke="#000" stroke-width="0.7" />
<line x1="361.88" y1="500.5" x2="361.88" y2="502.3" stroke="#000" stroke-width="0.7" />
<line x1="364.51" y1="500.5" x2="364.51" y2="502.3" stroke="#000" stroke-width="0.7" />
<line x1="367.14" y1="500.5" x2="367.14" y2="502.3" stroke="#000" stroke-width="0.7" />
<line x1="369.77" y1="500.5" x2="369.77" y2="502.3" stroke="#000" stroke-width="0.7" />
<line x1="372.4" y1="500.5" x2="372.4" y2="503.9" stroke="#000" stroke-width="0.9" />
<line x1="375.03" y1="500.5" x2="375.03" y2="502.3" stroke="#000" stroke-width="0.7" />
<line x1="377.66" y1="500.5" x2="377.66" y2="502.3" stroke="#000" stroke-width="0.7" />
<line x1="380.29" y1="500.5" x2="380.29" y2="502.3" stroke="#000" stroke-width="0.7" />
<line x1="382.92" y1="500.5" x2="382.92" y2="502.3" stroke="#000" stroke-width="0.7" />
<line x1="385.55" y1="500.5" x2="385.55" y2="502.3" stroke="#000" stroke-width="0.7" />
<line x1="388.18" y1="500.5" x2="388.18" y2="502.3" stroke="#000" stroke-width="0.7" />
<line x1="390.81" y1="500.5" x2="390.81" y2="502.3" stroke="#000" stroke-width="0.7" />
<line x1="393.44" y1="500.5" x2="393.44" y2="502.3" stroke="#000" stroke-width="0.7" />
<line x1="396.07" y1="500.5" x2="396.07" y2="502.3" stroke="#000" stroke-width="0.7" />
<line x1="398.7" y1="500.5" x2="398.7" y2="503.9" stroke="#000" stroke-width="0.9" />
<line x1="401.33" y1="500.5" x2="401.33" y2="502.3" stroke="#000" stroke-width="0.7" />
<line x1="403.96" y1="500.5" x2="403.96" y2="502.3" stroke="#000" stroke-width="0.7" />
<line x1="406.59" y1="500.5" x2="406.59" y2="502.3" stroke="#000" stroke-width="0.7" />
<line x1="409.22" y1="500.5" x2="409.22" y2="502.3" stroke="#000" stroke-width="0.7" />
<line x1="411.85" y1="500.5" x2="411.85" y2="502.3" stroke="#000" stroke-width="0.7" />
<line x1="414.48" y1="500.5" x2="414.48" y2="502.3" stroke="#000" stroke-width="0.7" />
<line x1="417.11" y1="500.5" x2="417.11" y2="502.3" stroke="#000" stroke-width="0.7" />
<line x1="419.74" y1="500.5" x2="419.74" y2="502.3" stroke="#000" stroke-width="0.7" />
<line x1="422.37" y1="500.5" x2="422.37" y2="502.3" stroke="#000" stroke-width="0.7" />
<line x1="425" y1="500.5" x2="425" y2="503.9" stroke="#000" stroke-width="0.9" />
<line x1="427.63" y1="500.5" x2="427.63" y2="502.3" stroke="#000" stroke-width="0.7" />
<line x1="430.26" y1="500.5" x2="430.26" y2="502.3" stroke="#000" stroke-width="0.7" />
<line x1="432.89" y1="500.5" x2="432.89" y2="502.3" stroke="#000" stroke-width="0.7" />
<line x1="435.52" y1="500.5" x2="435.52" y2="502.3" stroke="#000" stroke-width="0.7" />
<line x1="438.15" y1="500.5" x2="438.15" y2="502.3" stroke="#000" stroke-width="0.7" />
<line x1="440.78" y1="500.5" x2="440.78" y2="502.3" stroke="#000" stroke-width="0.7" />
<line x1="443.41" y1="500.5" x2="443.41" y2="502.3" stroke="#000" stroke-width="0.7" />
<line x1="446.04" y1="500.5" x2="446.04" y2="502.3" stroke="#000" stroke-width="0.7" />
<line x1="448.67" y1="500.5" x2="448.67" y2="502.3" stroke="#000" stroke-width="0.7" />
<line x1="451.3" y1="500.5" x2="451.3" y2="503.9" stroke="#000" stroke-width="0.9" />
<line x1="453.93" y1="500.5" x2="453.93" y2="502.3" stroke="#000" stroke-width="0.7" />
<line x1="456.56" y1="500.5" x2="456.56" y2="502.3" stroke="#000" stroke-width="0.7" />
<line x1="459.19" y1="500.5" x2="459.19" y2="502.3" stroke="#000" stroke-width="0.7" />
<line x1="461.82" y1="500.5" x2="461.82" y2="502.3" stroke="#000" stroke-width="0.7" />
<line x1="464.45" y1="500.5" x2="464.45" y2="502.3" stroke="#000" stroke-width="0.7" />
<line x1="467.08" y1="500.5" x2="467.08" y2="502.3" stroke="#000" stroke-width="0.7" />
<text x="293.6" y="512.9" font-size="6.9" text-anchor="middle" fill="#231f20" font-weight="normal" letter-spacing="0.2" stroke="#231f20" stroke-width="0.12">0</text>
<text x="319.9" y="512.9" font-size="6.9" text-anchor="middle" fill="#231f20" font-weight="normal" letter-spacing="0.2" stroke="#231f20" stroke-width="0.12">100</text>
<text x="346.2" y="512.9" font-size="6.9" text-anchor="middle" fill="#231f20" font-weight="normal" letter-spacing="0.2" stroke="#231f20" stroke-width="0.12">200</text>
<text x="372.5" y="512.9" font-size="6.9" text-anchor="middle" fill="#231f20" font-weight="normal" letter-spacing="0.2" stroke="#231f20" stroke-width="0.12">300</text>
<text x="398.8" y="512.9" font-size="6.9" text-anchor="middle" fill="#231f20" font-weight="normal" letter-spacing="0.2" stroke="#231f20" stroke-width="0.12">400</text>
<text x="425.1" y="512.9" font-size="6.9" text-anchor="middle" fill="#231f20" font-weight="normal" letter-spacing="0.2" stroke="#231f20" stroke-width="0.12">500</text>
<text x="451.4" y="512.9" font-size="6.9" text-anchor="middle" fill="#231f20" font-weight="normal" letter-spacing="0.2" stroke="#231f20" stroke-width="0.12">600</text>
<text x="381.2" y="528" font-size="8.2" text-anchor="middle" fill="#231f20" font-weight="normal" textLength="63.7" lengthAdjust="spacingAndGlyphs" stroke="#231f20" stroke-width="0.2">Osmolality (mOsm/kg)</text>
<text transform="translate(270.7,452.8) rotate(-90)" x="0" y="0" font-size="8.2" text-anchor="middle" fill="#231f20" stroke="#231f20" stroke-width="0.22" textLength="46.3" lengthAdjust="spacingAndGlyphs">Elongation index</text>
<text x="380" y="400" font-size="8.6" text-anchor="middle" fill="#222" font-weight="normal" >KCNN4</text>
<line x1="437.7" y1="409.5" x2="447.3" y2="409.5" stroke="#858587" stroke-width="1.2" />
<text x="451.1" y="411.95" font-size="6.8" text-anchor="start" fill="#222" font-weight="normal" stroke="#222" stroke-width="0.12">Healthy controls</text>
<line x1="437.7" y1="420.3" x2="447.3" y2="420.3" stroke="#ef7f9e" stroke-width="0.8" />
<text x="451.1" y="422.75" font-size="6.8" text-anchor="start" fill="#222" font-weight="normal" stroke="#222" stroke-width="0.12">Whole blood</text>
<line x1="437.7" y1="431.5" x2="447.3" y2="431.5" stroke="#a50f3b" stroke-width="1.2" stroke-dasharray="3.7 1.3"/>
<text x="451.1" y="433.95" font-size="6.8" text-anchor="start" fill="#222" font-weight="normal" stroke="#222" stroke-width="0.12">Vehicle</text>
<line x1="437.7" y1="441.8" x2="447.3" y2="441.8" stroke="#dcb8c3" stroke-width="0.7" />
<text x="451.1" y="444.25" font-size="6.8" text-anchor="start" fill="#222" font-weight="normal" stroke="#222" stroke-width="0.12">Tebapivat 2 μM</text>
</svg>
<div class="frame"></div>
</body></html>
